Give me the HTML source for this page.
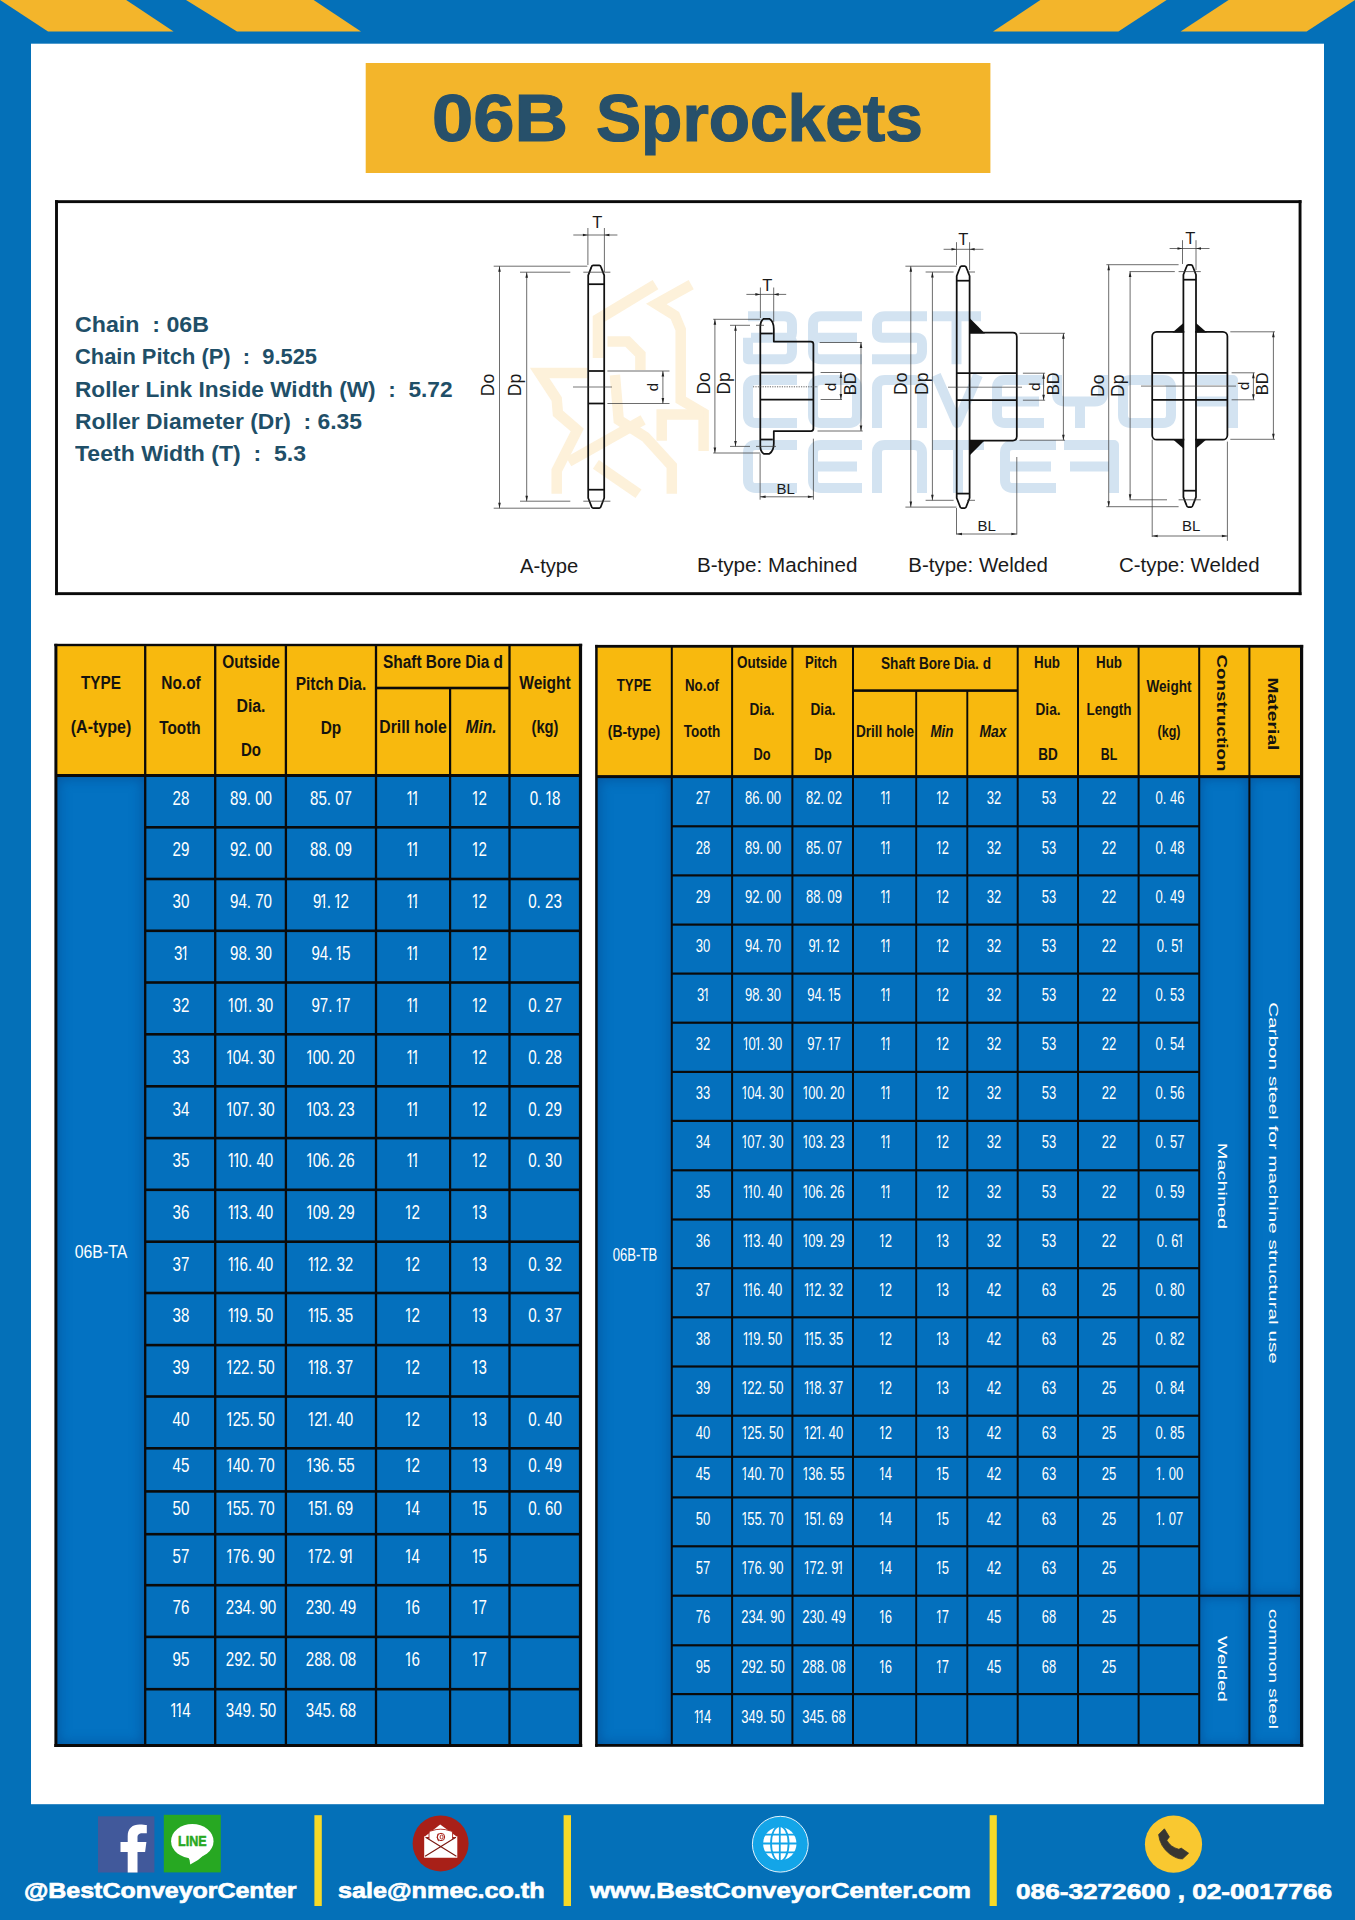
<!DOCTYPE html><html><head><meta charset="utf-8"><title>06B Sprockets</title><style>
html,body{margin:0;padding:0}
body{width:1355px;height:1920px;background:#0470b8;position:relative;overflow:hidden;font-family:"Liberation Sans",sans-serif}
.t{position:absolute;white-space:pre;line-height:1em;margin:0;padding:0}
.t i{font-style:normal;margin:0 -.1em;display:inline-block;clip-path:polygon(0 0,100% 0,100% 60%,63.5% 60%,63.5% 100%,42.5% 100%,42.5% 60%,0 60%)}
</style></head><body>
<svg style="position:absolute;left:0;top:0" width="1355" height="50" viewBox="0 0 1355 50">
<polygon points="0,0 126.2,0 173.6,31.6 48,31.6" fill="#f3b52b"/>
<polygon points="186,0 313.6,0 361,31.6 237,31.6" fill="#f3b52b"/>
<polygon points="1040.4,0 1166.6,0 1118.4,31.6 993,31.6" fill="#f3b52b"/>
<polygon points="1228.6,0 1355,0 1355,0 1306.6,31.6 1180.6,31.6" fill="#f3b52b"/>
</svg>
<svg style="position:absolute;left:0;top:0" width="1355" height="1920" viewBox="0 0 1355 1920"><rect x="31.00" y="43.70" width="1293.00" height="1760.50" fill="#fff"/><rect x="365.70" y="63.00" width="624.70" height="110.00" fill="#f3b52b"/><rect x="55.05" y="200.20" width="1246.45" height="2.90" fill="#0a0a0a"/><rect x="55.05" y="592.20" width="1246.45" height="2.90" fill="#0a0a0a"/><rect x="55.05" y="200.20" width="2.90" height="394.90" fill="#0a0a0a"/><rect x="1298.60" y="200.20" width="2.90" height="394.90" fill="#0a0a0a"/><rect x="55.80" y="644.70" width="524.80" height="130.80" fill="#f8b90e"/><rect x="55.80" y="775.50" width="524.80" height="970.10" fill="#0470bd"/></svg>
<div style="position:absolute;left:55.80px;top:775.50px;width:89.40px;height:970.10px;background:#0372c2;box-shadow:inset 0 0 12px 3px rgba(3,70,140,.55)"></div>
<svg style="position:absolute;left:0;top:0" width="1355" height="1920" viewBox="0 0 1355 1920"><rect x="54.30" y="643.80" width="527.90" height="2.40" fill="#0a0a0a"/><rect x="54.30" y="1744.00" width="527.90" height="3.00" fill="#0a0a0a"/><rect x="54.40" y="643.80" width="3.00" height="1103.20" fill="#0a0a0a"/><rect x="578.90" y="643.80" width="3.20" height="1103.20" fill="#0a0a0a"/><rect x="144.05" y="644.70" width="2.30" height="1100.90" fill="#0a0a0a"/><rect x="214.05" y="644.70" width="2.30" height="1100.90" fill="#0a0a0a"/><rect x="284.75" y="644.70" width="2.30" height="1100.90" fill="#0a0a0a"/><rect x="374.85" y="644.70" width="2.30" height="1100.90" fill="#0a0a0a"/><rect x="449.00" y="688.00" width="2.20" height="1057.60" fill="#0a0a0a"/><rect x="508.35" y="644.70" width="2.30" height="1100.90" fill="#0a0a0a"/><rect x="376.00" y="686.70" width="133.50" height="2.60" fill="#0a0a0a"/><rect x="55.80" y="774.00" width="524.80" height="3.00" fill="#0a0a0a"/><rect x="145.20" y="826.00" width="435.40" height="2.60" fill="#0a0a0a"/><rect x="145.20" y="877.70" width="435.40" height="2.60" fill="#0a0a0a"/><rect x="145.20" y="929.50" width="435.40" height="2.60" fill="#0a0a0a"/><rect x="145.20" y="981.20" width="435.40" height="2.60" fill="#0a0a0a"/><rect x="145.20" y="1033.00" width="435.40" height="2.60" fill="#0a0a0a"/><rect x="145.20" y="1085.00" width="435.40" height="2.60" fill="#0a0a0a"/><rect x="145.20" y="1136.80" width="435.40" height="2.60" fill="#0a0a0a"/><rect x="145.20" y="1188.50" width="435.40" height="2.60" fill="#0a0a0a"/><rect x="145.20" y="1240.40" width="435.40" height="2.60" fill="#0a0a0a"/><rect x="145.20" y="1291.70" width="435.40" height="2.60" fill="#0a0a0a"/><rect x="145.20" y="1343.80" width="435.40" height="2.60" fill="#0a0a0a"/><rect x="145.20" y="1395.20" width="435.40" height="2.60" fill="#0a0a0a"/><rect x="145.20" y="1447.00" width="435.40" height="2.60" fill="#0a0a0a"/><rect x="145.20" y="1490.10" width="435.40" height="2.60" fill="#0a0a0a"/><rect x="145.20" y="1532.90" width="435.40" height="2.60" fill="#0a0a0a"/><rect x="145.20" y="1583.90" width="435.40" height="2.60" fill="#0a0a0a"/><rect x="145.20" y="1635.60" width="435.40" height="2.60" fill="#0a0a0a"/><rect x="145.20" y="1687.90" width="435.40" height="2.60" fill="#0a0a0a"/><rect x="596.60" y="646.00" width="705.00" height="130.60" fill="#f8b90e"/><rect x="596.60" y="776.60" width="705.00" height="969.00" fill="#0470bd"/></svg>
<div style="position:absolute;left:596.60px;top:776.60px;width:75.20px;height:969.00px;background:#0372c2;box-shadow:inset 0 0 12px 3px rgba(3,70,140,.55)"></div>
<div style="position:absolute;left:1199.20px;top:776.60px;width:50.20px;height:819.10px;background:#0372c2;box-shadow:inset 0 0 10px 3px rgba(3,70,140,.5)"></div>
<div style="position:absolute;left:1249.40px;top:776.60px;width:52.20px;height:819.10px;background:#0372c2;box-shadow:inset 0 0 10px 3px rgba(3,70,140,.5)"></div>
<div style="position:absolute;left:1199.20px;top:1595.70px;width:50.20px;height:149.90px;background:#0372c2;box-shadow:inset 0 0 10px 3px rgba(3,70,140,.5)"></div>
<div style="position:absolute;left:1249.40px;top:1595.70px;width:52.20px;height:149.90px;background:#0372c2;box-shadow:inset 0 0 10px 3px rgba(3,70,140,.5)"></div>
<svg style="position:absolute;left:0;top:0" width="1355" height="1920" viewBox="0 0 1355 1920"><rect x="595.20" y="644.90" width="708.00" height="2.80" fill="#0a0a0a"/><rect x="595.20" y="1744.00" width="708.00" height="2.80" fill="#0a0a0a"/><rect x="595.15" y="644.90" width="2.50" height="1101.90" fill="#0a0a0a"/><rect x="1300.00" y="644.90" width="3.20" height="1101.90" fill="#0a0a0a"/><rect x="670.80" y="646.00" width="2.00" height="1099.60" fill="#0a0a0a"/><rect x="731.10" y="646.00" width="2.00" height="1099.60" fill="#0a0a0a"/><rect x="791.40" y="646.00" width="2.00" height="1099.60" fill="#0a0a0a"/><rect x="852.00" y="646.00" width="2.00" height="1099.60" fill="#0a0a0a"/><rect x="915.25" y="690.60" width="1.90" height="1055.00" fill="#0a0a0a"/><rect x="966.35" y="690.60" width="1.90" height="1055.00" fill="#0a0a0a"/><rect x="1016.70" y="646.00" width="2.00" height="1099.60" fill="#0a0a0a"/><rect x="1077.00" y="646.00" width="2.00" height="1099.60" fill="#0a0a0a"/><rect x="1137.60" y="646.00" width="2.00" height="1099.60" fill="#0a0a0a"/><rect x="1198.20" y="646.00" width="2.00" height="1099.60" fill="#0a0a0a"/><rect x="1248.40" y="646.00" width="2.00" height="1099.60" fill="#0a0a0a"/><rect x="853.00" y="689.30" width="164.70" height="2.60" fill="#0a0a0a"/><rect x="596.60" y="775.10" width="705.00" height="3.00" fill="#0a0a0a"/><rect x="671.80" y="825.20" width="527.40" height="2.20" fill="#0a0a0a"/><rect x="671.80" y="874.30" width="527.40" height="2.20" fill="#0a0a0a"/><rect x="671.80" y="923.50" width="527.40" height="2.20" fill="#0a0a0a"/><rect x="671.80" y="972.50" width="527.40" height="2.20" fill="#0a0a0a"/><rect x="671.80" y="1021.60" width="527.40" height="2.20" fill="#0a0a0a"/><rect x="671.80" y="1070.80" width="527.40" height="2.20" fill="#0a0a0a"/><rect x="671.80" y="1119.80" width="527.40" height="2.20" fill="#0a0a0a"/><rect x="671.80" y="1169.20" width="527.40" height="2.20" fill="#0a0a0a"/><rect x="671.80" y="1218.40" width="527.40" height="2.20" fill="#0a0a0a"/><rect x="671.80" y="1267.10" width="527.40" height="2.20" fill="#0a0a0a"/><rect x="671.80" y="1316.20" width="527.40" height="2.20" fill="#0a0a0a"/><rect x="671.80" y="1365.40" width="527.40" height="2.20" fill="#0a0a0a"/><rect x="671.80" y="1414.60" width="527.40" height="2.20" fill="#0a0a0a"/><rect x="671.80" y="1455.70" width="527.40" height="2.20" fill="#0a0a0a"/><rect x="671.80" y="1496.30" width="527.40" height="2.20" fill="#0a0a0a"/><rect x="671.80" y="1545.20" width="527.40" height="2.20" fill="#0a0a0a"/><rect x="671.80" y="1594.60" width="527.40" height="2.20" fill="#0a0a0a"/><rect x="671.80" y="1644.20" width="527.40" height="2.20" fill="#0a0a0a"/><rect x="671.80" y="1693.00" width="527.40" height="2.20" fill="#0a0a0a"/><rect x="1199.20" y="1594.60" width="102.40" height="2.20" fill="#0a0a0a"/><rect x="314.40" y="1815.20" width="7.40" height="90.80" fill="#f7d928"/><rect x="563.60" y="1815.20" width="7.40" height="90.80" fill="#f7d928"/><rect x="989.60" y="1815.20" width="7.20" height="90.80" fill="#f7d928"/></svg>
<svg style="position:absolute;left:0;top:0" width="1355" height="600" viewBox="0 0 1355 600" font-family="Liberation Sans, sans-serif">
<polyline points="587.3,373.0 539.6,373.0 556.7,399.0 557.9,413.3 577.3,430.0 556.7,470.6 556.7,493.8" fill="none" stroke="#fdf1da" stroke-width="10.5" stroke-linejoin="miter" stroke-linecap="butt"/>
<polyline points="568.7,461.8 643.1,419.9" fill="none" stroke="#fdf1da" stroke-width="10.5" stroke-linejoin="miter" stroke-linecap="butt"/>
<polyline points="595.9,464.4 638.5,493.8" fill="none" stroke="#fdf1da" stroke-width="10.5" stroke-linejoin="miter" stroke-linecap="butt"/>
<polyline points="598.2,357.9 598.2,319.2 655.5,284.6" fill="none" stroke="#fdf1da" stroke-width="11" stroke-linejoin="miter" stroke-linecap="butt"/>
<polyline points="691.2,284.6 656.3,304.0 674.9,315.6 680.7,329.6 680.7,399.8 703.6,413.3 703.6,450.9" fill="none" stroke="#fdf1da" stroke-width="10.5" stroke-linejoin="miter" stroke-linecap="butt"/>
<polyline points="607.5,341.6 627.6,341.6 640.4,354.4 640.4,369.9" fill="none" stroke="#fdf1da" stroke-width="10.5" stroke-linejoin="miter" stroke-linecap="butt"/>
<polyline points="614.9,375.0 618.7,419.9 645.5,437.0 671.8,465.9 671.8,493.8" fill="none" stroke="#fdf1da" stroke-width="10.5" stroke-linejoin="miter" stroke-linecap="butt"/>
<polyline points="661.7,440.8 661.7,414.5 703.6,414.5" fill="none" stroke="#fdf1da" stroke-width="10.5" stroke-linejoin="miter" stroke-linecap="butt"/>
<path d="M748.0,316.2 H784.0 Q792.0,316.2 792.0,324.2 V332.7 Q792.0,337.7 787.0,337.7 H751.0 M787.0,337.7 Q792.0,337.7 792.0,342.7 V351.2 Q792.0,359.2 784.0,359.2 H748.0 V337.7" fill="none" stroke="#d3e3f1" stroke-width="10" stroke-linejoin="round"/>
<path d="M862.0,316.2 H821.0 Q813.0,316.2 813.0,324.2 V351.2 Q813.0,359.2 821.0,359.2 H862.0 M813.0,337.7 H857.0" fill="none" stroke="#d3e3f1" stroke-width="10" stroke-linejoin="round"/>
<path d="M927.0,316.2 H885.0 Q877.0,316.2 877.0,324.2 V331.7 Q877.0,337.7 883.0,337.7 H916.0 Q922.0,337.7 922.0,343.7 V351.2 Q922.0,359.2 914.0,359.2 H872.0" fill="none" stroke="#d3e3f1" stroke-width="10" stroke-linejoin="round"/>
<path d="M932,316.2 H981 M956.5,316.2 V364.2" fill="none" stroke="#d3e3f1" stroke-width="10" stroke-linejoin="round"/>
<path d="M797.0,380.0 H756.0 Q748.0,380.0 748.0,388.0 V415.0 Q748.0,423.0 756.0,423.0 H797.0" fill="none" stroke="#d3e3f1" stroke-width="10" stroke-linejoin="round"/>
<path d="M821.0,380.0 H849.0 Q857.0,380.0 857.0,388.0 V415.0 Q857.0,423.0 849.0,423.0 H821.0 Q813.0,423.0 813.0,415.0 V388.0 Q813.0,380.0 821.0,380.0 Z" fill="none" stroke="#d3e3f1" stroke-width="10" stroke-linejoin="round"/>
<path d="M877.0,428 V388.0 Q877.0,380.0 885.0,380.0 H914.0 Q922.0,380.0 922.0,388.0 V428" fill="none" stroke="#d3e3f1" stroke-width="10" stroke-linejoin="round"/>
<path d="M936.0,375 L957.0,423.0 L978.0,375" fill="none" stroke="#d3e3f1" stroke-width="10" stroke-linejoin="round"/>
<path d="M1044.0,380.0 H1005.0 Q997.0,380.0 997.0,388.0 V415.0 Q997.0,423.0 1005.0,423.0 H1044.0 M997.0,401.5 H1039.0" fill="none" stroke="#d3e3f1" stroke-width="10" stroke-linejoin="round"/>
<path d="M1057.0,375 V393.5 Q1057.0,401.5 1065.0,401.5 H1095.0 Q1103.0,401.5 1103.0,393.5 V375 M1080.0,401.5 V428" fill="none" stroke="#d3e3f1" stroke-width="10" stroke-linejoin="round"/>
<path d="M1131.0,380.0 H1163.0 Q1171.0,380.0 1171.0,388.0 V415.0 Q1171.0,423.0 1163.0,423.0 H1131.0 Q1123.0,423.0 1123.0,415.0 V388.0 Q1123.0,380.0 1131.0,380.0 Z" fill="none" stroke="#d3e3f1" stroke-width="10" stroke-linejoin="round"/>
<path d="M1184,380.0 H1233.0 V428 M1190,401.5 H1233.0" fill="none" stroke="#d3e3f1" stroke-width="10" stroke-linejoin="round"/>
<path d="M797.0,445.0 H756.0 Q748.0,445.0 748.0,453.0 V480.0 Q748.0,488.0 756.0,488.0 H797.0" fill="none" stroke="#d3e3f1" stroke-width="10" stroke-linejoin="round"/>
<path d="M862.0,445.0 H821.0 Q813.0,445.0 813.0,453.0 V480.0 Q813.0,488.0 821.0,488.0 H862.0 M813.0,466.5 H857.0" fill="none" stroke="#d3e3f1" stroke-width="10" stroke-linejoin="round"/>
<path d="M877.0,493 V453.0 Q877.0,445.0 885.0,445.0 H914.0 Q922.0,445.0 922.0,453.0 V493" fill="none" stroke="#d3e3f1" stroke-width="10" stroke-linejoin="round"/>
<path d="M932,445.0 H984 M958.0,445.0 V493" fill="none" stroke="#d3e3f1" stroke-width="10" stroke-linejoin="round"/>
<path d="M1056.0,445.0 H1013.0 Q1005.0,445.0 1005.0,453.0 V480.0 Q1005.0,488.0 1013.0,488.0 H1056.0 M1005.0,466.5 H1051.0" fill="none" stroke="#d3e3f1" stroke-width="10" stroke-linejoin="round"/>
<path d="M1064,445.0 H1114.0 V493 M1070,466.5 H1114.0" fill="none" stroke="#d3e3f1" stroke-width="10" stroke-linejoin="round"/>
<path d="M588.2,275.4 L591.2,267.6 Q591.7,265.4 593.0,265.4 L599.4,265.4 Q600.7,265.4 601.2,267.6 L604.2,275.4 L604.2,498.0 L601.2,505.8 Q600.7,508.0 599.4,508.0 L593.0,508.0 Q591.7,508.0 591.2,505.8 L588.2,498.0 Z" fill="none" stroke="#111" stroke-width="1.75" stroke-linejoin="round"/>
<line x1="588.2" y1="284.2" x2="604.2" y2="284.2" stroke="#111" stroke-width="1.75"/>
<line x1="588.2" y1="489.7" x2="604.2" y2="489.7" stroke="#111" stroke-width="1.75"/>
<line x1="588.2" y1="371.0" x2="604.2" y2="371.0" stroke="#111" stroke-width="1.75"/>
<line x1="588.2" y1="403.5" x2="604.2" y2="403.5" stroke="#111" stroke-width="1.75"/>
<line x1="573.0" y1="387.0" x2="612.0" y2="387.0" stroke="#3c3c3c" stroke-width="0.7"/>
<line x1="493.7" y1="266.2" x2="587.3" y2="266.2" stroke="#3c3c3c" stroke-width="0.75"/>
<line x1="493.7" y1="508.2" x2="590.0" y2="508.2" stroke="#3c3c3c" stroke-width="0.75"/>
<line x1="499.5" y1="266.2" x2="499.5" y2="508.2" stroke="#3c3c3c" stroke-width="0.75"/>
<polygon points="499.5,266.2 498.2,271.7 500.8,271.7" fill="#222"/>
<polygon points="499.5,508.2 498.2,502.7 500.8,502.7" fill="#222"/>
<line x1="520.0" y1="272.2" x2="570.3" y2="272.2" stroke="#3c3c3c" stroke-width="0.75"/>
<line x1="583.3" y1="272.2" x2="610.4" y2="272.2" stroke="#3c3c3c" stroke-width="0.75"/>
<line x1="520.0" y1="501.2" x2="570.3" y2="501.2" stroke="#3c3c3c" stroke-width="0.75"/>
<line x1="583.3" y1="501.2" x2="610.4" y2="501.2" stroke="#3c3c3c" stroke-width="0.75"/>
<line x1="526.7" y1="272.2" x2="526.7" y2="501.2" stroke="#3c3c3c" stroke-width="0.75"/>
<polygon points="526.7,272.2 525.4,277.7 528.0,277.7" fill="#222"/>
<polygon points="526.7,501.2 525.4,495.7 528.0,495.7" fill="#222"/>
<line x1="587.9" y1="228.0" x2="587.9" y2="265.0" stroke="#3c3c3c" stroke-width="0.75"/>
<line x1="604.4" y1="228.0" x2="604.4" y2="272.0" stroke="#3c3c3c" stroke-width="0.75"/>
<line x1="573.3" y1="235.0" x2="617.4" y2="235.0" stroke="#3c3c3c" stroke-width="0.75"/>
<polygon points="587.9,235.0 582.9,233.7 582.9,236.3" fill="#222"/>
<polygon points="604.4,235.0 609.4,233.7 609.4,236.3" fill="#222"/>
<text x="597.3" y="227.5" font-size="16.5" text-anchor="middle" fill="#1a1a1a">T</text>
<line x1="607.4" y1="371.0" x2="669.5" y2="371.0" stroke="#3c3c3c" stroke-width="0.75"/>
<line x1="607.4" y1="403.5" x2="669.5" y2="403.5" stroke="#3c3c3c" stroke-width="0.75"/>
<line x1="662.9" y1="371.0" x2="662.9" y2="403.5" stroke="#3c3c3c" stroke-width="0.75"/>
<polygon points="662.9,371.0 661.6,376.5 664.2,376.5" fill="#222"/>
<polygon points="662.9,403.5 661.6,398.0 664.2,398.0" fill="#222"/>
<text x="658.5" y="387.2" font-size="15" text-anchor="middle" fill="#1a1a1a" transform="rotate(-90 658.5 387.2)">d</text>
<text x="494.0" y="385.0" font-size="17.5" text-anchor="middle" fill="#1a1a1a" transform="rotate(-90 494.0 385.0)">Do</text>
<text x="520.5" y="385.0" font-size="17.5" text-anchor="middle" fill="#1a1a1a" transform="rotate(-90 520.5 385.0)">Dp</text>
<text x="520.0" y="573.0" font-size="20.5" text-anchor="start" fill="#1a1a1a" textLength="58.3" lengthAdjust="spacingAndGlyphs">A-type</text>
<path d="M760.3,326.8 Q760.3,320.8 763.6999999999999,318.8 L769.4,318.8 Q773.8,321.5 773.8,329 L773.8,341.6 L810.9,341.6 Q813.4,341.6 813.4,344.1 L813.4,428.5 Q813.4,431 810.9,431 L773.8,431 L773.8,443.6 Q773.8,451 769.4,453.8 L763.6999999999999,453.8 Q760.3,451.8 760.3,445.8 Z" fill="none" stroke="#111" stroke-width="1.75" stroke-linejoin="round"/>
<line x1="760.3" y1="333.5" x2="772.8" y2="333.5" stroke="#111" stroke-width="1.75"/>
<line x1="760.3" y1="439.5" x2="772.8" y2="439.5" stroke="#111" stroke-width="1.75"/>
<line x1="760.3" y1="372.5" x2="813.4" y2="372.5" stroke="#111" stroke-width="1.75"/>
<line x1="760.3" y1="399.5" x2="813.4" y2="399.5" stroke="#111" stroke-width="1.75"/>
<line x1="753" y1="386.8" x2="818" y2="386.8" stroke="#3c3c3c" stroke-width="0.8" stroke-dasharray="1.2,1.2"/>
<line x1="713.2" y1="319.3" x2="760.4" y2="319.3" stroke="#3c3c3c" stroke-width="0.75"/>
<line x1="713.2" y1="453.0" x2="760.4" y2="453.0" stroke="#3c3c3c" stroke-width="0.75"/>
<line x1="714.9" y1="319.3" x2="714.9" y2="453.0" stroke="#3c3c3c" stroke-width="0.75"/>
<polygon points="714.9,319.3 713.6,324.8 716.2,324.8" fill="#222"/>
<polygon points="714.9,453.0 713.6,447.5 716.2,447.5" fill="#222"/>
<line x1="730.0" y1="325.3" x2="750.0" y2="325.3" stroke="#3c3c3c" stroke-width="0.75"/>
<line x1="756.0" y1="325.3" x2="764.0" y2="325.3" stroke="#3c3c3c" stroke-width="0.75"/>
<line x1="730.0" y1="446.4" x2="750.0" y2="446.4" stroke="#3c3c3c" stroke-width="0.75"/>
<line x1="756.0" y1="446.4" x2="776.0" y2="446.4" stroke="#3c3c3c" stroke-width="0.75"/>
<line x1="735.5" y1="325.3" x2="735.5" y2="446.4" stroke="#3c3c3c" stroke-width="0.75"/>
<polygon points="735.5,325.3 734.2,330.8 736.8,330.8" fill="#222"/>
<polygon points="735.5,446.4 734.2,440.9 736.8,440.9" fill="#222"/>
<line x1="760.4" y1="287.5" x2="760.4" y2="318.0" stroke="#3c3c3c" stroke-width="0.75"/>
<line x1="773.7" y1="287.5" x2="773.7" y2="322.0" stroke="#3c3c3c" stroke-width="0.75"/>
<line x1="746.4" y1="294.4" x2="786.2" y2="294.4" stroke="#3c3c3c" stroke-width="0.75"/>
<polygon points="760.4,294.4 755.4,293.1 755.4,295.7" fill="#222"/>
<polygon points="773.7,294.4 778.7,293.1 778.7,295.7" fill="#222"/>
<text x="767.3" y="290.5" font-size="16.5" text-anchor="middle" fill="#1a1a1a">T</text>
<line x1="819.7" y1="342.5" x2="861.8" y2="342.5" stroke="#3c3c3c" stroke-width="0.75"/>
<line x1="817.5" y1="431.0" x2="862.7" y2="431.0" stroke="#3c3c3c" stroke-width="0.75"/>
<line x1="861.0" y1="342.5" x2="861.0" y2="431.0" stroke="#3c3c3c" stroke-width="0.75"/>
<polygon points="861.0,342.5 859.7,348.0 862.3,348.0" fill="#222"/>
<polygon points="861.0,431.0 859.7,425.5 862.3,425.5" fill="#222"/>
<line x1="820.6" y1="372.5" x2="842.0" y2="372.5" stroke="#3c3c3c" stroke-width="0.75"/>
<line x1="820.6" y1="399.5" x2="842.0" y2="399.5" stroke="#3c3c3c" stroke-width="0.75"/>
<line x1="840.9" y1="372.5" x2="840.9" y2="399.5" stroke="#3c3c3c" stroke-width="0.75"/>
<polygon points="840.9,372.5 839.6,378.0 842.2,378.0" fill="#222"/>
<polygon points="840.9,399.5 839.6,394.0 842.2,394.0" fill="#222"/>
<line x1="760.1" y1="453.8" x2="760.1" y2="499.7" stroke="#3c3c3c" stroke-width="0.75"/>
<line x1="813.4" y1="438.7" x2="813.4" y2="499.7" stroke="#3c3c3c" stroke-width="0.75"/>
<line x1="760.1" y1="496.8" x2="813.4" y2="496.8" stroke="#3c3c3c" stroke-width="0.75"/>
<polygon points="760.1,496.8 765.6,495.5 765.6,498.1" fill="#222"/>
<polygon points="813.4,496.8 807.9,495.5 807.9,498.1" fill="#222"/>
<text x="785.8" y="493.7" font-size="15" text-anchor="middle" fill="#1a1a1a">BL</text>
<text x="710.5" y="383.4" font-size="17.5" text-anchor="middle" fill="#1a1a1a" transform="rotate(-90 710.5 383.4)">Do</text>
<text x="730.2" y="383.4" font-size="17.5" text-anchor="middle" fill="#1a1a1a" transform="rotate(-90 730.2 383.4)">Dp</text>
<text x="836.5" y="386.8" font-size="15" text-anchor="middle" fill="#1a1a1a" transform="rotate(-90 836.5 386.8)">d</text>
<text x="855.9" y="383.7" font-size="16.5" text-anchor="middle" fill="#1a1a1a" transform="rotate(-90 855.9 383.7)">BD</text>
<text x="696.9" y="572.4" font-size="20.5" text-anchor="start" fill="#1a1a1a" textLength="160.6" lengthAdjust="spacingAndGlyphs">B-type: Machined</text>
<path d="M956.7,276.0 L959.7,268.2 Q960.2,266.0 961.5,266.0 L964.8,266.0 Q966.1,266.0 966.6,268.2 L969.6,276.0 L969.6,498.0 L966.6,505.8 Q966.1,508.0 964.8,508.0 L961.5,508.0 Q960.2,508.0 959.7,505.8 L956.7,498.0 Z" fill="none" stroke="#111" stroke-width="1.75" stroke-linejoin="round"/>
<line x1="956.7" y1="280.7" x2="969.6" y2="280.7" stroke="#111" stroke-width="1.75"/>
<line x1="956.7" y1="493.6" x2="969.6" y2="493.6" stroke="#111" stroke-width="1.75"/>
<path d="M969.6,332.7 L1012.8,332.7 Q1016.8,332.7 1016.8,336.7 L1016.8,436.6 Q1016.8,440.6 1012.8,440.6 L969.6,440.6" fill="none" stroke="#111" stroke-width="1.75"/>
<polygon points="969.6,318 969.6,333.4 985,333.4" fill="#111"/>
<polygon points="969.6,455.4 969.6,440 985,440" fill="#111"/>
<line x1="956.7" y1="373.2" x2="1016.8" y2="373.2" stroke="#111" stroke-width="1.75"/>
<line x1="956.7" y1="400.2" x2="1016.8" y2="400.2" stroke="#111" stroke-width="1.75"/>
<line x1="948.0" y1="387.2" x2="1022.0" y2="387.2" stroke="#3c3c3c" stroke-width="0.7"/>
<line x1="905.4" y1="266.2" x2="956.5" y2="266.2" stroke="#3c3c3c" stroke-width="0.75"/>
<line x1="905.4" y1="507.1" x2="956.5" y2="507.1" stroke="#3c3c3c" stroke-width="0.75"/>
<line x1="910.8" y1="266.2" x2="910.8" y2="507.1" stroke="#3c3c3c" stroke-width="0.75"/>
<polygon points="910.8,266.2 909.5,271.7 912.1,271.7" fill="#222"/>
<polygon points="910.8,507.1 909.5,501.6 912.1,501.6" fill="#222"/>
<line x1="925.6" y1="272.0" x2="953.6" y2="272.0" stroke="#3c3c3c" stroke-width="0.75"/>
<line x1="967.0" y1="272.0" x2="975.0" y2="272.0" stroke="#3c3c3c" stroke-width="0.75"/>
<line x1="925.6" y1="500.3" x2="953.6" y2="500.3" stroke="#3c3c3c" stroke-width="0.75"/>
<line x1="967.0" y1="500.3" x2="975.0" y2="500.3" stroke="#3c3c3c" stroke-width="0.75"/>
<line x1="932.4" y1="272.0" x2="932.4" y2="500.3" stroke="#3c3c3c" stroke-width="0.75"/>
<polygon points="932.4,272.0 931.1,277.5 933.7,277.5" fill="#222"/>
<polygon points="932.4,500.3 931.1,494.8 933.7,494.8" fill="#222"/>
<line x1="956.5" y1="242.2" x2="956.5" y2="265.0" stroke="#3c3c3c" stroke-width="0.75"/>
<line x1="969.6" y1="242.2" x2="969.6" y2="270.0" stroke="#3c3c3c" stroke-width="0.75"/>
<line x1="943.6" y1="249.3" x2="983.4" y2="249.3" stroke="#3c3c3c" stroke-width="0.75"/>
<polygon points="956.5,249.3 951.5,248.0 951.5,250.6" fill="#222"/>
<polygon points="969.6,249.3 974.6,248.0 974.6,250.6" fill="#222"/>
<text x="963.2" y="244.5" font-size="16.5" text-anchor="middle" fill="#1a1a1a">T</text>
<line x1="1019.5" y1="333.3" x2="1065.0" y2="333.3" stroke="#3c3c3c" stroke-width="0.75"/>
<line x1="1019.5" y1="440.2" x2="1065.0" y2="440.2" stroke="#3c3c3c" stroke-width="0.75"/>
<line x1="1063.4" y1="333.3" x2="1063.4" y2="440.2" stroke="#3c3c3c" stroke-width="0.75"/>
<polygon points="1063.4,333.3 1062.1,338.8 1064.7,338.8" fill="#222"/>
<polygon points="1063.4,440.2 1062.1,434.7 1064.7,434.7" fill="#222"/>
<line x1="1022.9" y1="373.2" x2="1045.1" y2="373.2" stroke="#3c3c3c" stroke-width="0.75"/>
<line x1="1022.9" y1="400.2" x2="1045.1" y2="400.2" stroke="#3c3c3c" stroke-width="0.75"/>
<line x1="1043.6" y1="373.2" x2="1043.6" y2="400.2" stroke="#3c3c3c" stroke-width="0.75"/>
<polygon points="1043.6,373.2 1042.3,378.7 1044.9,378.7" fill="#222"/>
<polygon points="1043.6,400.2 1042.3,394.7 1044.9,394.7" fill="#222"/>
<line x1="956.5" y1="508.0" x2="956.5" y2="534.5" stroke="#3c3c3c" stroke-width="0.75"/>
<line x1="1016.8" y1="457.0" x2="1016.8" y2="534.5" stroke="#3c3c3c" stroke-width="0.75"/>
<line x1="956.5" y1="534.0" x2="1016.8" y2="534.0" stroke="#3c3c3c" stroke-width="0.75"/>
<polygon points="956.5,534.0 962.0,532.7 962.0,535.3" fill="#222"/>
<polygon points="1016.8,534.0 1011.3,532.7 1011.3,535.3" fill="#222"/>
<text x="986.8" y="530.6" font-size="15" text-anchor="middle" fill="#1a1a1a">BL</text>
<text x="906.6" y="383.8" font-size="17.5" text-anchor="middle" fill="#1a1a1a" transform="rotate(-90 906.6 383.8)">Do</text>
<text x="927.8" y="383.8" font-size="17.5" text-anchor="middle" fill="#1a1a1a" transform="rotate(-90 927.8 383.8)">Dp</text>
<text x="1040.3" y="386.6" font-size="15" text-anchor="middle" fill="#1a1a1a" transform="rotate(-90 1040.3 386.6)">d</text>
<text x="1058.8" y="383.8" font-size="16.5" text-anchor="middle" fill="#1a1a1a" transform="rotate(-90 1058.8 383.8)">BD</text>
<text x="908.3" y="571.6" font-size="20.5" text-anchor="start" fill="#1a1a1a" textLength="139.7" lengthAdjust="spacingAndGlyphs">B-type: Welded</text>
<rect x="1152.2" y="331.8" width="75.2" height="107.9" rx="4.5" fill="none" stroke="#111" stroke-width="1.75"/>
<rect x="1184.3" y="300" width="10.8" height="170" fill="#fff"/>
<path d="M1183.4,274.8 L1186.4,267.0 Q1186.9,264.8 1188.2,264.8 L1191.2,264.8 Q1192.5,264.8 1193.0,267.0 L1196.0,274.8 L1196.0,497.1 L1193.0,504.9 Q1192.5,507.1 1191.2,507.1 L1188.2,507.1 Q1186.9,507.1 1186.4,504.9 L1183.4,497.1 Z" fill="none" stroke="#111" stroke-width="1.75" stroke-linejoin="round"/>
<line x1="1183.4" y1="279.7" x2="1196.0" y2="279.7" stroke="#111" stroke-width="1.75"/>
<line x1="1183.4" y1="490.7" x2="1196.0" y2="490.7" stroke="#111" stroke-width="1.75"/>
<polygon points="1183.4,323 1183.4,332.4 1172.5,332.4" fill="#111"/>
<polygon points="1196,323 1196,332.4 1206.9,332.4" fill="#111"/>
<polygon points="1183.4,448.5 1183.4,439.1 1172.5,439.1" fill="#111"/>
<polygon points="1196,448.5 1196,439.1 1206.9,439.1" fill="#111"/>
<line x1="1152.2" y1="372.8" x2="1227.4" y2="372.8" stroke="#111" stroke-width="1.75"/>
<line x1="1152.2" y1="399.8" x2="1227.4" y2="399.8" stroke="#111" stroke-width="1.75"/>
<line x1="1141.0" y1="386.1" x2="1236.0" y2="386.1" stroke="#3c3c3c" stroke-width="0.7"/>
<line x1="1106.4" y1="264.7" x2="1178.6" y2="264.7" stroke="#3c3c3c" stroke-width="0.75"/>
<line x1="1106.4" y1="506.7" x2="1178.6" y2="506.7" stroke="#3c3c3c" stroke-width="0.75"/>
<line x1="1108.7" y1="264.7" x2="1108.7" y2="506.7" stroke="#3c3c3c" stroke-width="0.75"/>
<polygon points="1108.7,264.7 1107.4,270.2 1110.0,270.2" fill="#222"/>
<polygon points="1108.7,506.7 1107.4,501.2 1110.0,501.2" fill="#222"/>
<line x1="1129.5" y1="271.6" x2="1174.8" y2="271.6" stroke="#3c3c3c" stroke-width="0.75"/>
<line x1="1178.6" y1="271.6" x2="1200.8" y2="271.6" stroke="#3c3c3c" stroke-width="0.75"/>
<line x1="1129.5" y1="499.8" x2="1167.0" y2="499.8" stroke="#3c3c3c" stroke-width="0.75"/>
<line x1="1178.6" y1="499.8" x2="1200.8" y2="499.8" stroke="#3c3c3c" stroke-width="0.75"/>
<line x1="1130.1" y1="271.6" x2="1130.1" y2="499.8" stroke="#3c3c3c" stroke-width="0.75"/>
<polygon points="1130.1,271.6 1128.8,277.1 1131.4,277.1" fill="#222"/>
<polygon points="1130.1,499.8 1128.8,494.3 1131.4,494.3" fill="#222"/>
<line x1="1182.5" y1="240.2" x2="1182.5" y2="264.0" stroke="#3c3c3c" stroke-width="0.75"/>
<line x1="1196.0" y1="240.2" x2="1196.0" y2="270.0" stroke="#3c3c3c" stroke-width="0.75"/>
<line x1="1169.6" y1="248.5" x2="1209.5" y2="248.5" stroke="#3c3c3c" stroke-width="0.75"/>
<polygon points="1182.5,248.5 1177.5,247.2 1177.5,249.8" fill="#222"/>
<polygon points="1196.0,248.5 1201.0,247.2 1201.0,249.8" fill="#222"/>
<text x="1190.2" y="244.2" font-size="16.5" text-anchor="middle" fill="#1a1a1a">T</text>
<line x1="1230.3" y1="331.8" x2="1275.0" y2="331.8" stroke="#3c3c3c" stroke-width="0.75"/>
<line x1="1230.3" y1="439.3" x2="1275.0" y2="439.3" stroke="#3c3c3c" stroke-width="0.75"/>
<line x1="1273.4" y1="331.8" x2="1273.4" y2="439.3" stroke="#3c3c3c" stroke-width="0.75"/>
<polygon points="1273.4,331.8 1272.1,337.3 1274.7,337.3" fill="#222"/>
<polygon points="1273.4,439.3 1272.1,433.8 1274.7,433.8" fill="#222"/>
<line x1="1231.6" y1="372.8" x2="1254.7" y2="372.8" stroke="#3c3c3c" stroke-width="0.75"/>
<line x1="1231.6" y1="399.8" x2="1254.7" y2="399.8" stroke="#3c3c3c" stroke-width="0.75"/>
<line x1="1253.4" y1="372.8" x2="1253.4" y2="399.8" stroke="#3c3c3c" stroke-width="0.75"/>
<polygon points="1253.4,372.8 1252.1,378.3 1254.7,378.3" fill="#222"/>
<polygon points="1253.4,399.8 1252.1,394.3 1254.7,394.3" fill="#222"/>
<line x1="1152.2" y1="439.7" x2="1152.2" y2="537.0" stroke="#3c3c3c" stroke-width="0.75"/>
<line x1="1227.4" y1="441.6" x2="1227.4" y2="540.8" stroke="#3c3c3c" stroke-width="0.75"/>
<line x1="1152.2" y1="536.0" x2="1227.4" y2="536.0" stroke="#3c3c3c" stroke-width="0.75"/>
<polygon points="1152.2,536.0 1157.7,534.7 1157.7,537.3" fill="#222"/>
<polygon points="1227.4,536.0 1221.9,534.7 1221.9,537.3" fill="#222"/>
<text x="1191.2" y="531.2" font-size="15" text-anchor="middle" fill="#1a1a1a">BL</text>
<text x="1103.7" y="385.7" font-size="17.5" text-anchor="middle" fill="#1a1a1a" transform="rotate(-90 1103.7 385.7)">Do</text>
<text x="1123.9" y="385.7" font-size="17.5" text-anchor="middle" fill="#1a1a1a" transform="rotate(-90 1123.9 385.7)">Dp</text>
<text x="1248.9" y="385.9" font-size="15" text-anchor="middle" fill="#1a1a1a" transform="rotate(-90 1248.9 385.9)">d</text>
<text x="1268.4" y="383.8" font-size="16.5" text-anchor="middle" fill="#1a1a1a" transform="rotate(-90 1268.4 383.8)">BD</text>
<text x="1118.9" y="571.6" font-size="20.5" text-anchor="start" fill="#1a1a1a" textLength="140.7" lengthAdjust="spacingAndGlyphs">C-type: Welded</text>
</svg>
<svg style="position:absolute;left:0;top:1805px" width="1355" height="115" viewBox="0 1805 1355 115" font-family="Liberation Sans, sans-serif">
<rect x="98" y="1816.3" width="56.4" height="56.2" fill="#41599b"/>
<path d="M127.7,1872.6 V1851.9 H120.5 V1842.1 H127.7 V1836.2 C127.7,1828.2 132.5,1824.4 139.6,1824.4 C142.6,1824.4 145.2,1824.7 146.8,1825 V1833.3 H142.4 C138.7,1833.3 137.5,1835 137.5,1837.8 V1842.1 H146.4 L145.1,1851.9 H137.5 V1872.6 Z" fill="#fff"/>
<rect x="163.8" y="1814.8" width="57" height="57.6" fill="#27a822"/>
<ellipse cx="192.3" cy="1841.2" rx="21.2" ry="17.2" fill="#fff"/>
<path d="M187.5,1856 Q190.5,1860 190.2,1864.6 Q198,1861 204.5,1854.5 Z" fill="#fff"/>
<text x="192.3" y="1846.3" font-size="14" font-weight="700" fill="#27a822" stroke="#27a822" stroke-width="0.5" text-anchor="middle" textLength="28.5" lengthAdjust="spacingAndGlyphs">LINE</text>
<circle cx="440.6" cy="1843.4" r="28" fill="#a82018"/>
<polygon points="424.2,1837 440.2,1824.6 457.3,1837" fill="#fff"/>
<path d="M429,1833 Q429,1830.6 431.5,1830.8 Q440.7,1827.6 450,1830.8 Q452.6,1830.6 452.6,1833 V1848 H429 Z" fill="#fff" stroke="#a82018" stroke-width="0.9"/>
<circle cx="441" cy="1837" r="3.7" fill="none" stroke="#a82018" stroke-width="1"/>
<path d="M438.2,1833.6 Q435.8,1837.5 438.6,1841.2" fill="none" stroke="#a82018" stroke-width="1"/>
<ellipse cx="441.6" cy="1837" rx="1.5" ry="2" fill="none" stroke="#a82018" stroke-width="0.9"/>
<path d="M424.2,1836.2 L440.7,1845.6 L457.3,1836.2 V1857.7 H424.2 Z" fill="#fff"/>
<path d="M425.6,1837.2 L456.4,1856.2 M455.9,1837.2 L425.1,1856.2" fill="none" stroke="#7a1810" stroke-width="1.1"/>
<circle cx="780.3" cy="1844.2" r="27.9" fill="#13a5e8" stroke="#e4f3fc" stroke-width="1"/>
<circle cx="779.8" cy="1843.6" r="16.7" fill="#fff"/>
<g stroke="#13a5e8" stroke-width="1.8" fill="none"><line x1="762" y1="1843.5" x2="798" y2="1843.5"/><line x1="763" y1="1834.7" x2="797" y2="1834.7"/><line x1="763" y1="1852.3" x2="797" y2="1852.3"/><line x1="779.8" y1="1826" x2="779.8" y2="1862"/><ellipse cx="779.8" cy="1843.6" rx="8.8" ry="17.6"/></g>
<circle cx="1173.5" cy="1844.2" r="28.6" fill="#f9c830"/>
<path d="M1158.6,1834.6 L1164.4,1828.8 L1169.4,1836.9 L1166.8,1840.2 Q1170.2,1847 1178.9,1849.3 L1181.2,1848.1 L1188.6,1853.2 L1182.7,1858.8 Q1177.5,1859.6 1169.5,1853.8 Q1160,1846.5 1158.6,1834.6 Z" fill="#383632" stroke="#383632" stroke-width="0.8" stroke-linejoin="round"/>
</svg>
<div class="t" style="font-size:66px;color:#27506a;font-weight:700;-webkit-text-stroke:1.2px #27506a;left:431.80px;top:85.13px;transform:scaleX(1.1232);transform-origin:0 50%">06B</div>
<div class="t" style="font-size:66px;color:#27506a;font-weight:700;-webkit-text-stroke:1.2px #27506a;left:596.20px;top:85.13px;transform:scaleX(1.0243);transform-origin:0 50%">Sprockets</div>
<div class="t" style="font-size:22.5px;color:#1f4f68;font-weight:700;left:74.80px;top:313.65px;transform:scaleX(1.0305);transform-origin:0 50%">Chain  : 06B</div>
<div class="t" style="font-size:22.5px;color:#1f4f68;font-weight:700;left:74.80px;top:346.05px;transform:scaleX(0.9726);transform-origin:0 50%">Chain Pitch (P)  :  9.525</div>
<div class="t" style="font-size:22.5px;color:#1f4f68;font-weight:700;left:74.80px;top:378.65px;transform:scaleX(1.0071);transform-origin:0 50%">Roller Link Inside Width (W)  :  5.72</div>
<div class="t" style="font-size:22.5px;color:#1f4f68;font-weight:700;left:74.80px;top:411.05px;transform:scaleX(1.0156);transform-origin:0 50%">Roller Diameter (Dr)  : 6.35</div>
<div class="t" style="font-size:22.5px;color:#1f4f68;font-weight:700;left:74.80px;top:443.05px;transform:scaleX(1.0238);transform-origin:0 50%">Teeth Width (T)  :  5.3</div>
<div class="t" style="font-size:17.5px;color:#15130f;font-weight:700;left:100.90px;top:674.56px;transform:translateX(-50%) scaleX(0.8749);transform-origin:50% 50%">TYPE</div>
<div class="t" style="font-size:17.5px;color:#15130f;font-weight:700;left:100.90px;top:719.16px;transform:translateX(-50%) scaleX(0.9152);transform-origin:50% 50%">(A-type)</div>
<div class="t" style="font-size:17.5px;color:#15130f;font-weight:700;left:180.90px;top:675.06px;transform:translateX(-50%) scaleX(0.8833);transform-origin:50% 50%">No.of</div>
<div class="t" style="font-size:17.5px;color:#15130f;font-weight:700;left:180.40px;top:719.96px;transform:translateX(-50%) scaleX(0.8774);transform-origin:50% 50%">Tooth</div>
<div class="t" style="font-size:17.5px;color:#15130f;font-weight:700;left:250.80px;top:653.76px;transform:translateX(-50%) scaleX(0.8825);transform-origin:50% 50%">Outside</div>
<div class="t" style="font-size:17.5px;color:#15130f;font-weight:700;left:251.20px;top:697.56px;transform:translateX(-50%) scaleX(0.9032);transform-origin:50% 50%">Dia.</div>
<div class="t" style="font-size:17.5px;color:#15130f;font-weight:700;left:251.00px;top:741.56px;transform:translateX(-50%) scaleX(0.8573);transform-origin:50% 50%">Do</div>
<div class="t" style="font-size:17.5px;color:#15130f;font-weight:700;left:331.30px;top:675.66px;transform:translateX(-50%) scaleX(0.8840);transform-origin:50% 50%">Pitch Dia.</div>
<div class="t" style="font-size:17.5px;color:#15130f;font-weight:700;left:331.30px;top:719.76px;transform:translateX(-50%) scaleX(0.8788);transform-origin:50% 50%">Dp</div>
<div class="t" style="font-size:17.5px;color:#15130f;font-weight:700;left:443.00px;top:653.76px;transform:translateX(-50%) scaleX(0.8814);transform-origin:50% 50%">Shaft Bore Dia d</div>
<div class="t" style="font-size:17.5px;color:#15130f;font-weight:700;left:413.30px;top:718.96px;transform:translateX(-50%) scaleX(0.9015);transform-origin:50% 50%">Drill hole</div>
<div class="t" style="font-size:17.5px;color:#15130f;font-weight:700;font-style:italic;left:481.20px;top:718.96px;transform:translateX(-50%) scaleX(0.8857);transform-origin:50% 50%">Min.</div>
<div class="t" style="font-size:17.5px;color:#15130f;font-weight:700;left:545.20px;top:675.16px;transform:translateX(-50%) scaleX(0.8877);transform-origin:50% 50%">Weight</div>
<div class="t" style="font-size:17.5px;color:#15130f;font-weight:700;left:545.20px;top:719.16px;transform:translateX(-50%) scaleX(0.8417);transform-origin:50% 50%">(kg)</div>
<div class="t" style="font-size:19.8px;color:#fff;left:180.50px;top:788.73px;transform:translateX(-50%) scaleX(0.7650);transform-origin:50% 50%">28</div>
<div class="t" style="font-size:19.8px;color:#fff;left:250.85px;top:788.73px;transform:translateX(-50%) scaleX(0.7650);transform-origin:50% 50%">89. 00</div>
<div class="t" style="font-size:19.8px;color:#fff;left:331.25px;top:788.73px;transform:translateX(-50%) scaleX(0.7650);transform-origin:50% 50%">85. 07</div>
<div class="t" style="font-size:19.8px;color:#fff;left:413.35px;top:788.73px;transform:translateX(-50%) scaleX(0.7650);transform-origin:50% 50%"><i>1</i><i>1</i></div>
<div class="t" style="font-size:19.8px;color:#fff;left:480.10px;top:788.73px;transform:translateX(-50%) scaleX(0.7650);transform-origin:50% 50%"><i>1</i>2</div>
<div class="t" style="font-size:19.8px;color:#fff;left:545.35px;top:788.73px;transform:translateX(-50%) scaleX(0.7650);transform-origin:50% 50%">0. <i>1</i>8</div>
<div class="t" style="font-size:19.8px;color:#fff;left:180.50px;top:840.48px;transform:translateX(-50%) scaleX(0.7650);transform-origin:50% 50%">29</div>
<div class="t" style="font-size:19.8px;color:#fff;left:250.85px;top:840.48px;transform:translateX(-50%) scaleX(0.7650);transform-origin:50% 50%">92. 00</div>
<div class="t" style="font-size:19.8px;color:#fff;left:331.25px;top:840.48px;transform:translateX(-50%) scaleX(0.7650);transform-origin:50% 50%">88. 09</div>
<div class="t" style="font-size:19.8px;color:#fff;left:413.35px;top:840.48px;transform:translateX(-50%) scaleX(0.7650);transform-origin:50% 50%"><i>1</i><i>1</i></div>
<div class="t" style="font-size:19.8px;color:#fff;left:480.10px;top:840.48px;transform:translateX(-50%) scaleX(0.7650);transform-origin:50% 50%"><i>1</i>2</div>
<div class="t" style="font-size:19.8px;color:#fff;left:180.50px;top:892.23px;transform:translateX(-50%) scaleX(0.7650);transform-origin:50% 50%">30</div>
<div class="t" style="font-size:19.8px;color:#fff;left:250.85px;top:892.23px;transform:translateX(-50%) scaleX(0.7650);transform-origin:50% 50%">94. 70</div>
<div class="t" style="font-size:19.8px;color:#fff;left:331.25px;top:892.23px;transform:translateX(-50%) scaleX(0.7650);transform-origin:50% 50%">9<i>1</i>. <i>1</i>2</div>
<div class="t" style="font-size:19.8px;color:#fff;left:413.35px;top:892.23px;transform:translateX(-50%) scaleX(0.7650);transform-origin:50% 50%"><i>1</i><i>1</i></div>
<div class="t" style="font-size:19.8px;color:#fff;left:480.10px;top:892.23px;transform:translateX(-50%) scaleX(0.7650);transform-origin:50% 50%"><i>1</i>2</div>
<div class="t" style="font-size:19.8px;color:#fff;left:545.35px;top:892.23px;transform:translateX(-50%) scaleX(0.7650);transform-origin:50% 50%">0. 23</div>
<div class="t" style="font-size:19.8px;color:#fff;left:180.50px;top:943.98px;transform:translateX(-50%) scaleX(0.7650);transform-origin:50% 50%">3<i>1</i></div>
<div class="t" style="font-size:19.8px;color:#fff;left:250.85px;top:943.98px;transform:translateX(-50%) scaleX(0.7650);transform-origin:50% 50%">98. 30</div>
<div class="t" style="font-size:19.8px;color:#fff;left:331.25px;top:943.98px;transform:translateX(-50%) scaleX(0.7650);transform-origin:50% 50%">94. <i>1</i>5</div>
<div class="t" style="font-size:19.8px;color:#fff;left:413.35px;top:943.98px;transform:translateX(-50%) scaleX(0.7650);transform-origin:50% 50%"><i>1</i><i>1</i></div>
<div class="t" style="font-size:19.8px;color:#fff;left:480.10px;top:943.98px;transform:translateX(-50%) scaleX(0.7650);transform-origin:50% 50%"><i>1</i>2</div>
<div class="t" style="font-size:19.8px;color:#fff;left:180.50px;top:995.73px;transform:translateX(-50%) scaleX(0.7650);transform-origin:50% 50%">32</div>
<div class="t" style="font-size:19.8px;color:#fff;left:250.85px;top:995.73px;transform:translateX(-50%) scaleX(0.7650);transform-origin:50% 50%"><i>1</i>0<i>1</i>. 30</div>
<div class="t" style="font-size:19.8px;color:#fff;left:331.25px;top:995.73px;transform:translateX(-50%) scaleX(0.7650);transform-origin:50% 50%">97. <i>1</i>7</div>
<div class="t" style="font-size:19.8px;color:#fff;left:413.35px;top:995.73px;transform:translateX(-50%) scaleX(0.7650);transform-origin:50% 50%"><i>1</i><i>1</i></div>
<div class="t" style="font-size:19.8px;color:#fff;left:480.10px;top:995.73px;transform:translateX(-50%) scaleX(0.7650);transform-origin:50% 50%"><i>1</i>2</div>
<div class="t" style="font-size:19.8px;color:#fff;left:545.35px;top:995.73px;transform:translateX(-50%) scaleX(0.7650);transform-origin:50% 50%">0. 27</div>
<div class="t" style="font-size:19.8px;color:#fff;left:180.50px;top:1047.63px;transform:translateX(-50%) scaleX(0.7650);transform-origin:50% 50%">33</div>
<div class="t" style="font-size:19.8px;color:#fff;left:250.85px;top:1047.63px;transform:translateX(-50%) scaleX(0.7650);transform-origin:50% 50%"><i>1</i>04. 30</div>
<div class="t" style="font-size:19.8px;color:#fff;left:331.25px;top:1047.63px;transform:translateX(-50%) scaleX(0.7650);transform-origin:50% 50%"><i>1</i>00. 20</div>
<div class="t" style="font-size:19.8px;color:#fff;left:413.35px;top:1047.63px;transform:translateX(-50%) scaleX(0.7650);transform-origin:50% 50%"><i>1</i><i>1</i></div>
<div class="t" style="font-size:19.8px;color:#fff;left:480.10px;top:1047.63px;transform:translateX(-50%) scaleX(0.7650);transform-origin:50% 50%"><i>1</i>2</div>
<div class="t" style="font-size:19.8px;color:#fff;left:545.35px;top:1047.63px;transform:translateX(-50%) scaleX(0.7650);transform-origin:50% 50%">0. 28</div>
<div class="t" style="font-size:19.8px;color:#fff;left:180.50px;top:1099.53px;transform:translateX(-50%) scaleX(0.7650);transform-origin:50% 50%">34</div>
<div class="t" style="font-size:19.8px;color:#fff;left:250.85px;top:1099.53px;transform:translateX(-50%) scaleX(0.7650);transform-origin:50% 50%"><i>1</i>07. 30</div>
<div class="t" style="font-size:19.8px;color:#fff;left:331.25px;top:1099.53px;transform:translateX(-50%) scaleX(0.7650);transform-origin:50% 50%"><i>1</i>03. 23</div>
<div class="t" style="font-size:19.8px;color:#fff;left:413.35px;top:1099.53px;transform:translateX(-50%) scaleX(0.7650);transform-origin:50% 50%"><i>1</i><i>1</i></div>
<div class="t" style="font-size:19.8px;color:#fff;left:480.10px;top:1099.53px;transform:translateX(-50%) scaleX(0.7650);transform-origin:50% 50%"><i>1</i>2</div>
<div class="t" style="font-size:19.8px;color:#fff;left:545.35px;top:1099.53px;transform:translateX(-50%) scaleX(0.7650);transform-origin:50% 50%">0. 29</div>
<div class="t" style="font-size:19.8px;color:#fff;left:180.50px;top:1151.28px;transform:translateX(-50%) scaleX(0.7650);transform-origin:50% 50%">35</div>
<div class="t" style="font-size:19.8px;color:#fff;left:250.85px;top:1151.28px;transform:translateX(-50%) scaleX(0.7650);transform-origin:50% 50%"><i>1</i><i>1</i>0. 40</div>
<div class="t" style="font-size:19.8px;color:#fff;left:331.25px;top:1151.28px;transform:translateX(-50%) scaleX(0.7650);transform-origin:50% 50%"><i>1</i>06. 26</div>
<div class="t" style="font-size:19.8px;color:#fff;left:413.35px;top:1151.28px;transform:translateX(-50%) scaleX(0.7650);transform-origin:50% 50%"><i>1</i><i>1</i></div>
<div class="t" style="font-size:19.8px;color:#fff;left:480.10px;top:1151.28px;transform:translateX(-50%) scaleX(0.7650);transform-origin:50% 50%"><i>1</i>2</div>
<div class="t" style="font-size:19.8px;color:#fff;left:545.35px;top:1151.28px;transform:translateX(-50%) scaleX(0.7650);transform-origin:50% 50%">0. 30</div>
<div class="t" style="font-size:19.8px;color:#fff;left:180.50px;top:1203.08px;transform:translateX(-50%) scaleX(0.7650);transform-origin:50% 50%">36</div>
<div class="t" style="font-size:19.8px;color:#fff;left:250.85px;top:1203.08px;transform:translateX(-50%) scaleX(0.7650);transform-origin:50% 50%"><i>1</i><i>1</i>3. 40</div>
<div class="t" style="font-size:19.8px;color:#fff;left:331.25px;top:1203.08px;transform:translateX(-50%) scaleX(0.7650);transform-origin:50% 50%"><i>1</i>09. 29</div>
<div class="t" style="font-size:19.8px;color:#fff;left:413.35px;top:1203.08px;transform:translateX(-50%) scaleX(0.7650);transform-origin:50% 50%"><i>1</i>2</div>
<div class="t" style="font-size:19.8px;color:#fff;left:480.10px;top:1203.08px;transform:translateX(-50%) scaleX(0.7650);transform-origin:50% 50%"><i>1</i>3</div>
<div class="t" style="font-size:19.8px;color:#fff;left:180.50px;top:1254.68px;transform:translateX(-50%) scaleX(0.7650);transform-origin:50% 50%">37</div>
<div class="t" style="font-size:19.8px;color:#fff;left:250.85px;top:1254.68px;transform:translateX(-50%) scaleX(0.7650);transform-origin:50% 50%"><i>1</i><i>1</i>6. 40</div>
<div class="t" style="font-size:19.8px;color:#fff;left:331.25px;top:1254.68px;transform:translateX(-50%) scaleX(0.7650);transform-origin:50% 50%"><i>1</i><i>1</i>2. 32</div>
<div class="t" style="font-size:19.8px;color:#fff;left:413.35px;top:1254.68px;transform:translateX(-50%) scaleX(0.7650);transform-origin:50% 50%"><i>1</i>2</div>
<div class="t" style="font-size:19.8px;color:#fff;left:480.10px;top:1254.68px;transform:translateX(-50%) scaleX(0.7650);transform-origin:50% 50%"><i>1</i>3</div>
<div class="t" style="font-size:19.8px;color:#fff;left:545.35px;top:1254.68px;transform:translateX(-50%) scaleX(0.7650);transform-origin:50% 50%">0. 32</div>
<div class="t" style="font-size:19.8px;color:#fff;left:180.50px;top:1306.38px;transform:translateX(-50%) scaleX(0.7650);transform-origin:50% 50%">38</div>
<div class="t" style="font-size:19.8px;color:#fff;left:250.85px;top:1306.38px;transform:translateX(-50%) scaleX(0.7650);transform-origin:50% 50%"><i>1</i><i>1</i>9. 50</div>
<div class="t" style="font-size:19.8px;color:#fff;left:331.25px;top:1306.38px;transform:translateX(-50%) scaleX(0.7650);transform-origin:50% 50%"><i>1</i><i>1</i>5. 35</div>
<div class="t" style="font-size:19.8px;color:#fff;left:413.35px;top:1306.38px;transform:translateX(-50%) scaleX(0.7650);transform-origin:50% 50%"><i>1</i>2</div>
<div class="t" style="font-size:19.8px;color:#fff;left:480.10px;top:1306.38px;transform:translateX(-50%) scaleX(0.7650);transform-origin:50% 50%"><i>1</i>3</div>
<div class="t" style="font-size:19.8px;color:#fff;left:545.35px;top:1306.38px;transform:translateX(-50%) scaleX(0.7650);transform-origin:50% 50%">0. 37</div>
<div class="t" style="font-size:19.8px;color:#fff;left:180.50px;top:1358.13px;transform:translateX(-50%) scaleX(0.7650);transform-origin:50% 50%">39</div>
<div class="t" style="font-size:19.8px;color:#fff;left:250.85px;top:1358.13px;transform:translateX(-50%) scaleX(0.7650);transform-origin:50% 50%"><i>1</i>22. 50</div>
<div class="t" style="font-size:19.8px;color:#fff;left:331.25px;top:1358.13px;transform:translateX(-50%) scaleX(0.7650);transform-origin:50% 50%"><i>1</i><i>1</i>8. 37</div>
<div class="t" style="font-size:19.8px;color:#fff;left:413.35px;top:1358.13px;transform:translateX(-50%) scaleX(0.7650);transform-origin:50% 50%"><i>1</i>2</div>
<div class="t" style="font-size:19.8px;color:#fff;left:480.10px;top:1358.13px;transform:translateX(-50%) scaleX(0.7650);transform-origin:50% 50%"><i>1</i>3</div>
<div class="t" style="font-size:19.8px;color:#fff;left:180.50px;top:1409.73px;transform:translateX(-50%) scaleX(0.7650);transform-origin:50% 50%">40</div>
<div class="t" style="font-size:19.8px;color:#fff;left:250.85px;top:1409.73px;transform:translateX(-50%) scaleX(0.7650);transform-origin:50% 50%"><i>1</i>25. 50</div>
<div class="t" style="font-size:19.8px;color:#fff;left:331.25px;top:1409.73px;transform:translateX(-50%) scaleX(0.7650);transform-origin:50% 50%"><i>1</i>2<i>1</i>. 40</div>
<div class="t" style="font-size:19.8px;color:#fff;left:413.35px;top:1409.73px;transform:translateX(-50%) scaleX(0.7650);transform-origin:50% 50%"><i>1</i>2</div>
<div class="t" style="font-size:19.8px;color:#fff;left:480.10px;top:1409.73px;transform:translateX(-50%) scaleX(0.7650);transform-origin:50% 50%"><i>1</i>3</div>
<div class="t" style="font-size:19.8px;color:#fff;left:545.35px;top:1409.73px;transform:translateX(-50%) scaleX(0.7650);transform-origin:50% 50%">0. 40</div>
<div class="t" style="font-size:19.8px;color:#fff;left:180.50px;top:1456.48px;transform:translateX(-50%) scaleX(0.7650);transform-origin:50% 50%">45</div>
<div class="t" style="font-size:19.8px;color:#fff;left:250.85px;top:1456.48px;transform:translateX(-50%) scaleX(0.7650);transform-origin:50% 50%"><i>1</i>40. 70</div>
<div class="t" style="font-size:19.8px;color:#fff;left:331.25px;top:1456.48px;transform:translateX(-50%) scaleX(0.7650);transform-origin:50% 50%"><i>1</i>36. 55</div>
<div class="t" style="font-size:19.8px;color:#fff;left:413.35px;top:1456.48px;transform:translateX(-50%) scaleX(0.7650);transform-origin:50% 50%"><i>1</i>2</div>
<div class="t" style="font-size:19.8px;color:#fff;left:480.10px;top:1456.48px;transform:translateX(-50%) scaleX(0.7650);transform-origin:50% 50%"><i>1</i>3</div>
<div class="t" style="font-size:19.8px;color:#fff;left:545.35px;top:1456.48px;transform:translateX(-50%) scaleX(0.7650);transform-origin:50% 50%">0. 49</div>
<div class="t" style="font-size:19.8px;color:#fff;left:180.50px;top:1499.43px;transform:translateX(-50%) scaleX(0.7650);transform-origin:50% 50%">50</div>
<div class="t" style="font-size:19.8px;color:#fff;left:250.85px;top:1499.43px;transform:translateX(-50%) scaleX(0.7650);transform-origin:50% 50%"><i>1</i>55. 70</div>
<div class="t" style="font-size:19.8px;color:#fff;left:331.25px;top:1499.43px;transform:translateX(-50%) scaleX(0.7650);transform-origin:50% 50%"><i>1</i>5<i>1</i>. 69</div>
<div class="t" style="font-size:19.8px;color:#fff;left:413.35px;top:1499.43px;transform:translateX(-50%) scaleX(0.7650);transform-origin:50% 50%"><i>1</i>4</div>
<div class="t" style="font-size:19.8px;color:#fff;left:480.10px;top:1499.43px;transform:translateX(-50%) scaleX(0.7650);transform-origin:50% 50%"><i>1</i>5</div>
<div class="t" style="font-size:19.8px;color:#fff;left:545.35px;top:1499.43px;transform:translateX(-50%) scaleX(0.7650);transform-origin:50% 50%">0. 60</div>
<div class="t" style="font-size:19.8px;color:#fff;left:180.50px;top:1547.03px;transform:translateX(-50%) scaleX(0.7650);transform-origin:50% 50%">57</div>
<div class="t" style="font-size:19.8px;color:#fff;left:250.85px;top:1547.03px;transform:translateX(-50%) scaleX(0.7650);transform-origin:50% 50%"><i>1</i>76. 90</div>
<div class="t" style="font-size:19.8px;color:#fff;left:331.25px;top:1547.03px;transform:translateX(-50%) scaleX(0.7650);transform-origin:50% 50%"><i>1</i>72. 9<i>1</i></div>
<div class="t" style="font-size:19.8px;color:#fff;left:413.35px;top:1547.03px;transform:translateX(-50%) scaleX(0.7650);transform-origin:50% 50%"><i>1</i>4</div>
<div class="t" style="font-size:19.8px;color:#fff;left:480.10px;top:1547.03px;transform:translateX(-50%) scaleX(0.7650);transform-origin:50% 50%"><i>1</i>5</div>
<div class="t" style="font-size:19.8px;color:#fff;left:180.50px;top:1598.38px;transform:translateX(-50%) scaleX(0.7650);transform-origin:50% 50%">76</div>
<div class="t" style="font-size:19.8px;color:#fff;left:250.85px;top:1598.38px;transform:translateX(-50%) scaleX(0.7650);transform-origin:50% 50%">234. 90</div>
<div class="t" style="font-size:19.8px;color:#fff;left:331.25px;top:1598.38px;transform:translateX(-50%) scaleX(0.7650);transform-origin:50% 50%">230. 49</div>
<div class="t" style="font-size:19.8px;color:#fff;left:413.35px;top:1598.38px;transform:translateX(-50%) scaleX(0.7650);transform-origin:50% 50%"><i>1</i>6</div>
<div class="t" style="font-size:19.8px;color:#fff;left:480.10px;top:1598.38px;transform:translateX(-50%) scaleX(0.7650);transform-origin:50% 50%"><i>1</i>7</div>
<div class="t" style="font-size:19.8px;color:#fff;left:180.50px;top:1650.38px;transform:translateX(-50%) scaleX(0.7650);transform-origin:50% 50%">95</div>
<div class="t" style="font-size:19.8px;color:#fff;left:250.85px;top:1650.38px;transform:translateX(-50%) scaleX(0.7650);transform-origin:50% 50%">292. 50</div>
<div class="t" style="font-size:19.8px;color:#fff;left:331.25px;top:1650.38px;transform:translateX(-50%) scaleX(0.7650);transform-origin:50% 50%">288. 08</div>
<div class="t" style="font-size:19.8px;color:#fff;left:413.35px;top:1650.38px;transform:translateX(-50%) scaleX(0.7650);transform-origin:50% 50%"><i>1</i>6</div>
<div class="t" style="font-size:19.8px;color:#fff;left:480.10px;top:1650.38px;transform:translateX(-50%) scaleX(0.7650);transform-origin:50% 50%"><i>1</i>7</div>
<div class="t" style="font-size:19.8px;color:#fff;left:180.50px;top:1701.33px;transform:translateX(-50%) scaleX(0.7650);transform-origin:50% 50%"><i>1</i><i>1</i>4</div>
<div class="t" style="font-size:19.8px;color:#fff;left:250.85px;top:1701.33px;transform:translateX(-50%) scaleX(0.7650);transform-origin:50% 50%">349. 50</div>
<div class="t" style="font-size:19.8px;color:#fff;left:331.25px;top:1701.33px;transform:translateX(-50%) scaleX(0.7650);transform-origin:50% 50%">345. 68</div>
<div class="t" style="font-size:18.8px;color:#fff;left:101.20px;top:1242.94px;transform:translateX(-50%) scaleX(0.8430);transform-origin:50% 50%">06B-TA</div>
<div class="t" style="font-size:17px;color:#15130f;font-weight:700;left:634.30px;top:677.21px;transform:translateX(-50%) scaleX(0.7769);transform-origin:50% 50%">TYPE</div>
<div class="t" style="font-size:17px;color:#15130f;font-weight:700;left:634.30px;top:723.41px;transform:translateX(-50%) scaleX(0.8175);transform-origin:50% 50%">(B-type)</div>
<div class="t" style="font-size:17px;color:#15130f;font-weight:700;left:702.20px;top:677.21px;transform:translateX(-50%) scaleX(0.7827);transform-origin:50% 50%">No.of</div>
<div class="t" style="font-size:17px;color:#15130f;font-weight:700;left:702.20px;top:723.41px;transform:translateX(-50%) scaleX(0.7946);transform-origin:50% 50%">Tooth</div>
<div class="t" style="font-size:17px;color:#15130f;font-weight:700;left:762.30px;top:654.41px;transform:translateX(-50%) scaleX(0.7899);transform-origin:50% 50%">Outside</div>
<div class="t" style="font-size:17px;color:#15130f;font-weight:700;left:762.30px;top:700.81px;transform:translateX(-50%) scaleX(0.8016);transform-origin:50% 50%">Dia.</div>
<div class="t" style="font-size:17px;color:#15130f;font-weight:700;left:762.30px;top:746.21px;transform:translateX(-50%) scaleX(0.7498);transform-origin:50% 50%">Do</div>
<div class="t" style="font-size:17px;color:#15130f;font-weight:700;left:821.40px;top:654.41px;transform:translateX(-50%) scaleX(0.7699);transform-origin:50% 50%">Pitch</div>
<div class="t" style="font-size:17px;color:#15130f;font-weight:700;left:822.70px;top:700.81px;transform:translateX(-50%) scaleX(0.8016);transform-origin:50% 50%">Dia.</div>
<div class="t" style="font-size:17px;color:#15130f;font-weight:700;left:822.70px;top:746.21px;transform:translateX(-50%) scaleX(0.7719);transform-origin:50% 50%">Dp</div>
<div class="t" style="font-size:17px;color:#15130f;font-weight:700;left:935.50px;top:655.31px;transform:translateX(-50%) scaleX(0.8031);transform-origin:50% 50%">Shaft Bore Dia. d</div>
<div class="t" style="font-size:17px;color:#15130f;font-weight:700;left:885.20px;top:722.61px;transform:translateX(-50%) scaleX(0.7974);transform-origin:50% 50%">Drill hole</div>
<div class="t" style="font-size:17px;color:#15130f;font-weight:700;font-style:italic;left:942.00px;top:722.61px;transform:translateX(-50%) scaleX(0.7855);transform-origin:50% 50%">Min</div>
<div class="t" style="font-size:17px;color:#15130f;font-weight:700;font-style:italic;left:993.00px;top:722.61px;transform:translateX(-50%) scaleX(0.8162);transform-origin:50% 50%">Max</div>
<div class="t" style="font-size:17px;color:#15130f;font-weight:700;left:1047.20px;top:654.41px;transform:translateX(-50%) scaleX(0.7868);transform-origin:50% 50%">Hub</div>
<div class="t" style="font-size:17px;color:#15130f;font-weight:700;left:1047.90px;top:700.81px;transform:translateX(-50%) scaleX(0.8016);transform-origin:50% 50%">Dia.</div>
<div class="t" style="font-size:17px;color:#15130f;font-weight:700;left:1047.90px;top:746.21px;transform:translateX(-50%) scaleX(0.7939);transform-origin:50% 50%">BD</div>
<div class="t" style="font-size:17px;color:#15130f;font-weight:700;left:1108.60px;top:654.41px;transform:translateX(-50%) scaleX(0.7868);transform-origin:50% 50%">Hub</div>
<div class="t" style="font-size:17px;color:#15130f;font-weight:700;left:1108.90px;top:700.81px;transform:translateX(-50%) scaleX(0.7943);transform-origin:50% 50%">Length</div>
<div class="t" style="font-size:17px;color:#15130f;font-weight:700;left:1108.90px;top:746.21px;transform:translateX(-50%) scaleX(0.7278);transform-origin:50% 50%">BL</div>
<div class="t" style="font-size:17px;color:#15130f;font-weight:700;left:1169.40px;top:677.81px;transform:translateX(-50%) scaleX(0.7984);transform-origin:50% 50%">Weight</div>
<div class="t" style="font-size:17px;color:#15130f;font-weight:700;left:1169.40px;top:723.41px;transform:translateX(-50%) scaleX(0.7378);transform-origin:50% 50%">(kg)</div>
<div class="t" style="font-size:15px;color:#15130f;font-weight:700;left:1221.60px;top:713.00px;transform:translate(-50%,-50%) rotate(90deg) scaleX(1.2536);transform-origin:50% 50%">Construction</div>
<div class="t" style="font-size:15px;color:#15130f;font-weight:700;left:1273.40px;top:713.70px;transform:translate(-50%,-50%) rotate(90deg) scaleX(1.2874);transform-origin:50% 50%">Material</div>
<div class="t" style="font-size:19px;color:#fff;left:702.95px;top:788.27px;transform:translateX(-50%) scaleX(0.6850);transform-origin:50% 50%">27</div>
<div class="t" style="font-size:19px;color:#fff;left:763.25px;top:788.27px;transform:translateX(-50%) scaleX(0.6850);transform-origin:50% 50%">86. 00</div>
<div class="t" style="font-size:19px;color:#fff;left:823.70px;top:788.27px;transform:translateX(-50%) scaleX(0.6850);transform-origin:50% 50%">82. 02</div>
<div class="t" style="font-size:19px;color:#fff;left:885.60px;top:788.27px;transform:translateX(-50%) scaleX(0.6850);transform-origin:50% 50%"><i>1</i><i>1</i></div>
<div class="t" style="font-size:19px;color:#fff;left:942.75px;top:788.27px;transform:translateX(-50%) scaleX(0.6850);transform-origin:50% 50%"><i>1</i>2</div>
<div class="t" style="font-size:19px;color:#fff;left:993.50px;top:788.27px;transform:translateX(-50%) scaleX(0.6850);transform-origin:50% 50%">32</div>
<div class="t" style="font-size:19px;color:#fff;left:1048.85px;top:788.27px;transform:translateX(-50%) scaleX(0.6850);transform-origin:50% 50%">53</div>
<div class="t" style="font-size:19px;color:#fff;left:1109.30px;top:788.27px;transform:translateX(-50%) scaleX(0.6850);transform-origin:50% 50%">22</div>
<div class="t" style="font-size:19px;color:#fff;left:1169.90px;top:788.27px;transform:translateX(-50%) scaleX(0.6850);transform-origin:50% 50%">0. 46</div>
<div class="t" style="font-size:19px;color:#fff;left:702.95px;top:837.67px;transform:translateX(-50%) scaleX(0.6850);transform-origin:50% 50%">28</div>
<div class="t" style="font-size:19px;color:#fff;left:763.25px;top:837.67px;transform:translateX(-50%) scaleX(0.6850);transform-origin:50% 50%">89. 00</div>
<div class="t" style="font-size:19px;color:#fff;left:823.70px;top:837.67px;transform:translateX(-50%) scaleX(0.6850);transform-origin:50% 50%">85. 07</div>
<div class="t" style="font-size:19px;color:#fff;left:885.60px;top:837.67px;transform:translateX(-50%) scaleX(0.6850);transform-origin:50% 50%"><i>1</i><i>1</i></div>
<div class="t" style="font-size:19px;color:#fff;left:942.75px;top:837.67px;transform:translateX(-50%) scaleX(0.6850);transform-origin:50% 50%"><i>1</i>2</div>
<div class="t" style="font-size:19px;color:#fff;left:993.50px;top:837.67px;transform:translateX(-50%) scaleX(0.6850);transform-origin:50% 50%">32</div>
<div class="t" style="font-size:19px;color:#fff;left:1048.85px;top:837.67px;transform:translateX(-50%) scaleX(0.6850);transform-origin:50% 50%">53</div>
<div class="t" style="font-size:19px;color:#fff;left:1109.30px;top:837.67px;transform:translateX(-50%) scaleX(0.6850);transform-origin:50% 50%">22</div>
<div class="t" style="font-size:19px;color:#fff;left:1169.90px;top:837.67px;transform:translateX(-50%) scaleX(0.6850);transform-origin:50% 50%">0. 48</div>
<div class="t" style="font-size:19px;color:#fff;left:702.95px;top:886.82px;transform:translateX(-50%) scaleX(0.6850);transform-origin:50% 50%">29</div>
<div class="t" style="font-size:19px;color:#fff;left:763.25px;top:886.82px;transform:translateX(-50%) scaleX(0.6850);transform-origin:50% 50%">92. 00</div>
<div class="t" style="font-size:19px;color:#fff;left:823.70px;top:886.82px;transform:translateX(-50%) scaleX(0.6850);transform-origin:50% 50%">88. 09</div>
<div class="t" style="font-size:19px;color:#fff;left:885.60px;top:886.82px;transform:translateX(-50%) scaleX(0.6850);transform-origin:50% 50%"><i>1</i><i>1</i></div>
<div class="t" style="font-size:19px;color:#fff;left:942.75px;top:886.82px;transform:translateX(-50%) scaleX(0.6850);transform-origin:50% 50%"><i>1</i>2</div>
<div class="t" style="font-size:19px;color:#fff;left:993.50px;top:886.82px;transform:translateX(-50%) scaleX(0.6850);transform-origin:50% 50%">32</div>
<div class="t" style="font-size:19px;color:#fff;left:1048.85px;top:886.82px;transform:translateX(-50%) scaleX(0.6850);transform-origin:50% 50%">53</div>
<div class="t" style="font-size:19px;color:#fff;left:1109.30px;top:886.82px;transform:translateX(-50%) scaleX(0.6850);transform-origin:50% 50%">22</div>
<div class="t" style="font-size:19px;color:#fff;left:1169.90px;top:886.82px;transform:translateX(-50%) scaleX(0.6850);transform-origin:50% 50%">0. 49</div>
<div class="t" style="font-size:19px;color:#fff;left:702.95px;top:935.92px;transform:translateX(-50%) scaleX(0.6850);transform-origin:50% 50%">30</div>
<div class="t" style="font-size:19px;color:#fff;left:763.25px;top:935.92px;transform:translateX(-50%) scaleX(0.6850);transform-origin:50% 50%">94. 70</div>
<div class="t" style="font-size:19px;color:#fff;left:823.70px;top:935.92px;transform:translateX(-50%) scaleX(0.6850);transform-origin:50% 50%">9<i>1</i>. <i>1</i>2</div>
<div class="t" style="font-size:19px;color:#fff;left:885.60px;top:935.92px;transform:translateX(-50%) scaleX(0.6850);transform-origin:50% 50%"><i>1</i><i>1</i></div>
<div class="t" style="font-size:19px;color:#fff;left:942.75px;top:935.92px;transform:translateX(-50%) scaleX(0.6850);transform-origin:50% 50%"><i>1</i>2</div>
<div class="t" style="font-size:19px;color:#fff;left:993.50px;top:935.92px;transform:translateX(-50%) scaleX(0.6850);transform-origin:50% 50%">32</div>
<div class="t" style="font-size:19px;color:#fff;left:1048.85px;top:935.92px;transform:translateX(-50%) scaleX(0.6850);transform-origin:50% 50%">53</div>
<div class="t" style="font-size:19px;color:#fff;left:1109.30px;top:935.92px;transform:translateX(-50%) scaleX(0.6850);transform-origin:50% 50%">22</div>
<div class="t" style="font-size:19px;color:#fff;left:1169.90px;top:935.92px;transform:translateX(-50%) scaleX(0.6850);transform-origin:50% 50%">0. 5<i>1</i></div>
<div class="t" style="font-size:19px;color:#fff;left:702.95px;top:984.97px;transform:translateX(-50%) scaleX(0.6850);transform-origin:50% 50%">3<i>1</i></div>
<div class="t" style="font-size:19px;color:#fff;left:763.25px;top:984.97px;transform:translateX(-50%) scaleX(0.6850);transform-origin:50% 50%">98. 30</div>
<div class="t" style="font-size:19px;color:#fff;left:823.70px;top:984.97px;transform:translateX(-50%) scaleX(0.6850);transform-origin:50% 50%">94. <i>1</i>5</div>
<div class="t" style="font-size:19px;color:#fff;left:885.60px;top:984.97px;transform:translateX(-50%) scaleX(0.6850);transform-origin:50% 50%"><i>1</i><i>1</i></div>
<div class="t" style="font-size:19px;color:#fff;left:942.75px;top:984.97px;transform:translateX(-50%) scaleX(0.6850);transform-origin:50% 50%"><i>1</i>2</div>
<div class="t" style="font-size:19px;color:#fff;left:993.50px;top:984.97px;transform:translateX(-50%) scaleX(0.6850);transform-origin:50% 50%">32</div>
<div class="t" style="font-size:19px;color:#fff;left:1048.85px;top:984.97px;transform:translateX(-50%) scaleX(0.6850);transform-origin:50% 50%">53</div>
<div class="t" style="font-size:19px;color:#fff;left:1109.30px;top:984.97px;transform:translateX(-50%) scaleX(0.6850);transform-origin:50% 50%">22</div>
<div class="t" style="font-size:19px;color:#fff;left:1169.90px;top:984.97px;transform:translateX(-50%) scaleX(0.6850);transform-origin:50% 50%">0. 53</div>
<div class="t" style="font-size:19px;color:#fff;left:702.95px;top:1034.12px;transform:translateX(-50%) scaleX(0.6850);transform-origin:50% 50%">32</div>
<div class="t" style="font-size:19px;color:#fff;left:763.25px;top:1034.12px;transform:translateX(-50%) scaleX(0.6850);transform-origin:50% 50%"><i>1</i>0<i>1</i>. 30</div>
<div class="t" style="font-size:19px;color:#fff;left:823.70px;top:1034.12px;transform:translateX(-50%) scaleX(0.6850);transform-origin:50% 50%">97. <i>1</i>7</div>
<div class="t" style="font-size:19px;color:#fff;left:885.60px;top:1034.12px;transform:translateX(-50%) scaleX(0.6850);transform-origin:50% 50%"><i>1</i><i>1</i></div>
<div class="t" style="font-size:19px;color:#fff;left:942.75px;top:1034.12px;transform:translateX(-50%) scaleX(0.6850);transform-origin:50% 50%"><i>1</i>2</div>
<div class="t" style="font-size:19px;color:#fff;left:993.50px;top:1034.12px;transform:translateX(-50%) scaleX(0.6850);transform-origin:50% 50%">32</div>
<div class="t" style="font-size:19px;color:#fff;left:1048.85px;top:1034.12px;transform:translateX(-50%) scaleX(0.6850);transform-origin:50% 50%">53</div>
<div class="t" style="font-size:19px;color:#fff;left:1109.30px;top:1034.12px;transform:translateX(-50%) scaleX(0.6850);transform-origin:50% 50%">22</div>
<div class="t" style="font-size:19px;color:#fff;left:1169.90px;top:1034.12px;transform:translateX(-50%) scaleX(0.6850);transform-origin:50% 50%">0. 54</div>
<div class="t" style="font-size:19px;color:#fff;left:702.95px;top:1083.22px;transform:translateX(-50%) scaleX(0.6850);transform-origin:50% 50%">33</div>
<div class="t" style="font-size:19px;color:#fff;left:763.25px;top:1083.22px;transform:translateX(-50%) scaleX(0.6850);transform-origin:50% 50%"><i>1</i>04. 30</div>
<div class="t" style="font-size:19px;color:#fff;left:823.70px;top:1083.22px;transform:translateX(-50%) scaleX(0.6850);transform-origin:50% 50%"><i>1</i>00. 20</div>
<div class="t" style="font-size:19px;color:#fff;left:885.60px;top:1083.22px;transform:translateX(-50%) scaleX(0.6850);transform-origin:50% 50%"><i>1</i><i>1</i></div>
<div class="t" style="font-size:19px;color:#fff;left:942.75px;top:1083.22px;transform:translateX(-50%) scaleX(0.6850);transform-origin:50% 50%"><i>1</i>2</div>
<div class="t" style="font-size:19px;color:#fff;left:993.50px;top:1083.22px;transform:translateX(-50%) scaleX(0.6850);transform-origin:50% 50%">32</div>
<div class="t" style="font-size:19px;color:#fff;left:1048.85px;top:1083.22px;transform:translateX(-50%) scaleX(0.6850);transform-origin:50% 50%">53</div>
<div class="t" style="font-size:19px;color:#fff;left:1109.30px;top:1083.22px;transform:translateX(-50%) scaleX(0.6850);transform-origin:50% 50%">22</div>
<div class="t" style="font-size:19px;color:#fff;left:1169.90px;top:1083.22px;transform:translateX(-50%) scaleX(0.6850);transform-origin:50% 50%">0. 56</div>
<div class="t" style="font-size:19px;color:#fff;left:702.95px;top:1132.42px;transform:translateX(-50%) scaleX(0.6850);transform-origin:50% 50%">34</div>
<div class="t" style="font-size:19px;color:#fff;left:763.25px;top:1132.42px;transform:translateX(-50%) scaleX(0.6850);transform-origin:50% 50%"><i>1</i>07. 30</div>
<div class="t" style="font-size:19px;color:#fff;left:823.70px;top:1132.42px;transform:translateX(-50%) scaleX(0.6850);transform-origin:50% 50%"><i>1</i>03. 23</div>
<div class="t" style="font-size:19px;color:#fff;left:885.60px;top:1132.42px;transform:translateX(-50%) scaleX(0.6850);transform-origin:50% 50%"><i>1</i><i>1</i></div>
<div class="t" style="font-size:19px;color:#fff;left:942.75px;top:1132.42px;transform:translateX(-50%) scaleX(0.6850);transform-origin:50% 50%"><i>1</i>2</div>
<div class="t" style="font-size:19px;color:#fff;left:993.50px;top:1132.42px;transform:translateX(-50%) scaleX(0.6850);transform-origin:50% 50%">32</div>
<div class="t" style="font-size:19px;color:#fff;left:1048.85px;top:1132.42px;transform:translateX(-50%) scaleX(0.6850);transform-origin:50% 50%">53</div>
<div class="t" style="font-size:19px;color:#fff;left:1109.30px;top:1132.42px;transform:translateX(-50%) scaleX(0.6850);transform-origin:50% 50%">22</div>
<div class="t" style="font-size:19px;color:#fff;left:1169.90px;top:1132.42px;transform:translateX(-50%) scaleX(0.6850);transform-origin:50% 50%">0. 57</div>
<div class="t" style="font-size:19px;color:#fff;left:702.95px;top:1181.72px;transform:translateX(-50%) scaleX(0.6850);transform-origin:50% 50%">35</div>
<div class="t" style="font-size:19px;color:#fff;left:763.25px;top:1181.72px;transform:translateX(-50%) scaleX(0.6850);transform-origin:50% 50%"><i>1</i><i>1</i>0. 40</div>
<div class="t" style="font-size:19px;color:#fff;left:823.70px;top:1181.72px;transform:translateX(-50%) scaleX(0.6850);transform-origin:50% 50%"><i>1</i>06. 26</div>
<div class="t" style="font-size:19px;color:#fff;left:885.60px;top:1181.72px;transform:translateX(-50%) scaleX(0.6850);transform-origin:50% 50%"><i>1</i><i>1</i></div>
<div class="t" style="font-size:19px;color:#fff;left:942.75px;top:1181.72px;transform:translateX(-50%) scaleX(0.6850);transform-origin:50% 50%"><i>1</i>2</div>
<div class="t" style="font-size:19px;color:#fff;left:993.50px;top:1181.72px;transform:translateX(-50%) scaleX(0.6850);transform-origin:50% 50%">32</div>
<div class="t" style="font-size:19px;color:#fff;left:1048.85px;top:1181.72px;transform:translateX(-50%) scaleX(0.6850);transform-origin:50% 50%">53</div>
<div class="t" style="font-size:19px;color:#fff;left:1109.30px;top:1181.72px;transform:translateX(-50%) scaleX(0.6850);transform-origin:50% 50%">22</div>
<div class="t" style="font-size:19px;color:#fff;left:1169.90px;top:1181.72px;transform:translateX(-50%) scaleX(0.6850);transform-origin:50% 50%">0. 59</div>
<div class="t" style="font-size:19px;color:#fff;left:702.95px;top:1230.67px;transform:translateX(-50%) scaleX(0.6850);transform-origin:50% 50%">36</div>
<div class="t" style="font-size:19px;color:#fff;left:763.25px;top:1230.67px;transform:translateX(-50%) scaleX(0.6850);transform-origin:50% 50%"><i>1</i><i>1</i>3. 40</div>
<div class="t" style="font-size:19px;color:#fff;left:823.70px;top:1230.67px;transform:translateX(-50%) scaleX(0.6850);transform-origin:50% 50%"><i>1</i>09. 29</div>
<div class="t" style="font-size:19px;color:#fff;left:885.60px;top:1230.67px;transform:translateX(-50%) scaleX(0.6850);transform-origin:50% 50%"><i>1</i>2</div>
<div class="t" style="font-size:19px;color:#fff;left:942.75px;top:1230.67px;transform:translateX(-50%) scaleX(0.6850);transform-origin:50% 50%"><i>1</i>3</div>
<div class="t" style="font-size:19px;color:#fff;left:993.50px;top:1230.67px;transform:translateX(-50%) scaleX(0.6850);transform-origin:50% 50%">32</div>
<div class="t" style="font-size:19px;color:#fff;left:1048.85px;top:1230.67px;transform:translateX(-50%) scaleX(0.6850);transform-origin:50% 50%">53</div>
<div class="t" style="font-size:19px;color:#fff;left:1109.30px;top:1230.67px;transform:translateX(-50%) scaleX(0.6850);transform-origin:50% 50%">22</div>
<div class="t" style="font-size:19px;color:#fff;left:1169.90px;top:1230.67px;transform:translateX(-50%) scaleX(0.6850);transform-origin:50% 50%">0. 6<i>1</i></div>
<div class="t" style="font-size:19px;color:#fff;left:702.95px;top:1279.57px;transform:translateX(-50%) scaleX(0.6850);transform-origin:50% 50%">37</div>
<div class="t" style="font-size:19px;color:#fff;left:763.25px;top:1279.57px;transform:translateX(-50%) scaleX(0.6850);transform-origin:50% 50%"><i>1</i><i>1</i>6. 40</div>
<div class="t" style="font-size:19px;color:#fff;left:823.70px;top:1279.57px;transform:translateX(-50%) scaleX(0.6850);transform-origin:50% 50%"><i>1</i><i>1</i>2. 32</div>
<div class="t" style="font-size:19px;color:#fff;left:885.60px;top:1279.57px;transform:translateX(-50%) scaleX(0.6850);transform-origin:50% 50%"><i>1</i>2</div>
<div class="t" style="font-size:19px;color:#fff;left:942.75px;top:1279.57px;transform:translateX(-50%) scaleX(0.6850);transform-origin:50% 50%"><i>1</i>3</div>
<div class="t" style="font-size:19px;color:#fff;left:993.50px;top:1279.57px;transform:translateX(-50%) scaleX(0.6850);transform-origin:50% 50%">42</div>
<div class="t" style="font-size:19px;color:#fff;left:1048.85px;top:1279.57px;transform:translateX(-50%) scaleX(0.6850);transform-origin:50% 50%">63</div>
<div class="t" style="font-size:19px;color:#fff;left:1109.30px;top:1279.57px;transform:translateX(-50%) scaleX(0.6850);transform-origin:50% 50%">25</div>
<div class="t" style="font-size:19px;color:#fff;left:1169.90px;top:1279.57px;transform:translateX(-50%) scaleX(0.6850);transform-origin:50% 50%">0. 80</div>
<div class="t" style="font-size:19px;color:#fff;left:702.95px;top:1328.72px;transform:translateX(-50%) scaleX(0.6850);transform-origin:50% 50%">38</div>
<div class="t" style="font-size:19px;color:#fff;left:763.25px;top:1328.72px;transform:translateX(-50%) scaleX(0.6850);transform-origin:50% 50%"><i>1</i><i>1</i>9. 50</div>
<div class="t" style="font-size:19px;color:#fff;left:823.70px;top:1328.72px;transform:translateX(-50%) scaleX(0.6850);transform-origin:50% 50%"><i>1</i><i>1</i>5. 35</div>
<div class="t" style="font-size:19px;color:#fff;left:885.60px;top:1328.72px;transform:translateX(-50%) scaleX(0.6850);transform-origin:50% 50%"><i>1</i>2</div>
<div class="t" style="font-size:19px;color:#fff;left:942.75px;top:1328.72px;transform:translateX(-50%) scaleX(0.6850);transform-origin:50% 50%"><i>1</i>3</div>
<div class="t" style="font-size:19px;color:#fff;left:993.50px;top:1328.72px;transform:translateX(-50%) scaleX(0.6850);transform-origin:50% 50%">42</div>
<div class="t" style="font-size:19px;color:#fff;left:1048.85px;top:1328.72px;transform:translateX(-50%) scaleX(0.6850);transform-origin:50% 50%">63</div>
<div class="t" style="font-size:19px;color:#fff;left:1109.30px;top:1328.72px;transform:translateX(-50%) scaleX(0.6850);transform-origin:50% 50%">25</div>
<div class="t" style="font-size:19px;color:#fff;left:1169.90px;top:1328.72px;transform:translateX(-50%) scaleX(0.6850);transform-origin:50% 50%">0. 82</div>
<div class="t" style="font-size:19px;color:#fff;left:702.95px;top:1377.92px;transform:translateX(-50%) scaleX(0.6850);transform-origin:50% 50%">39</div>
<div class="t" style="font-size:19px;color:#fff;left:763.25px;top:1377.92px;transform:translateX(-50%) scaleX(0.6850);transform-origin:50% 50%"><i>1</i>22. 50</div>
<div class="t" style="font-size:19px;color:#fff;left:823.70px;top:1377.92px;transform:translateX(-50%) scaleX(0.6850);transform-origin:50% 50%"><i>1</i><i>1</i>8. 37</div>
<div class="t" style="font-size:19px;color:#fff;left:885.60px;top:1377.92px;transform:translateX(-50%) scaleX(0.6850);transform-origin:50% 50%"><i>1</i>2</div>
<div class="t" style="font-size:19px;color:#fff;left:942.75px;top:1377.92px;transform:translateX(-50%) scaleX(0.6850);transform-origin:50% 50%"><i>1</i>3</div>
<div class="t" style="font-size:19px;color:#fff;left:993.50px;top:1377.92px;transform:translateX(-50%) scaleX(0.6850);transform-origin:50% 50%">42</div>
<div class="t" style="font-size:19px;color:#fff;left:1048.85px;top:1377.92px;transform:translateX(-50%) scaleX(0.6850);transform-origin:50% 50%">63</div>
<div class="t" style="font-size:19px;color:#fff;left:1109.30px;top:1377.92px;transform:translateX(-50%) scaleX(0.6850);transform-origin:50% 50%">25</div>
<div class="t" style="font-size:19px;color:#fff;left:1169.90px;top:1377.92px;transform:translateX(-50%) scaleX(0.6850);transform-origin:50% 50%">0. 84</div>
<div class="t" style="font-size:19px;color:#fff;left:702.95px;top:1423.27px;transform:translateX(-50%) scaleX(0.6850);transform-origin:50% 50%">40</div>
<div class="t" style="font-size:19px;color:#fff;left:763.25px;top:1423.27px;transform:translateX(-50%) scaleX(0.6850);transform-origin:50% 50%"><i>1</i>25. 50</div>
<div class="t" style="font-size:19px;color:#fff;left:823.70px;top:1423.27px;transform:translateX(-50%) scaleX(0.6850);transform-origin:50% 50%"><i>1</i>2<i>1</i>. 40</div>
<div class="t" style="font-size:19px;color:#fff;left:885.60px;top:1423.27px;transform:translateX(-50%) scaleX(0.6850);transform-origin:50% 50%"><i>1</i>2</div>
<div class="t" style="font-size:19px;color:#fff;left:942.75px;top:1423.27px;transform:translateX(-50%) scaleX(0.6850);transform-origin:50% 50%"><i>1</i>3</div>
<div class="t" style="font-size:19px;color:#fff;left:993.50px;top:1423.27px;transform:translateX(-50%) scaleX(0.6850);transform-origin:50% 50%">42</div>
<div class="t" style="font-size:19px;color:#fff;left:1048.85px;top:1423.27px;transform:translateX(-50%) scaleX(0.6850);transform-origin:50% 50%">63</div>
<div class="t" style="font-size:19px;color:#fff;left:1109.30px;top:1423.27px;transform:translateX(-50%) scaleX(0.6850);transform-origin:50% 50%">25</div>
<div class="t" style="font-size:19px;color:#fff;left:1169.90px;top:1423.27px;transform:translateX(-50%) scaleX(0.6850);transform-origin:50% 50%">0. 85</div>
<div class="t" style="font-size:19px;color:#fff;left:702.95px;top:1464.12px;transform:translateX(-50%) scaleX(0.6850);transform-origin:50% 50%">45</div>
<div class="t" style="font-size:19px;color:#fff;left:763.25px;top:1464.12px;transform:translateX(-50%) scaleX(0.6850);transform-origin:50% 50%"><i>1</i>40. 70</div>
<div class="t" style="font-size:19px;color:#fff;left:823.70px;top:1464.12px;transform:translateX(-50%) scaleX(0.6850);transform-origin:50% 50%"><i>1</i>36. 55</div>
<div class="t" style="font-size:19px;color:#fff;left:885.60px;top:1464.12px;transform:translateX(-50%) scaleX(0.6850);transform-origin:50% 50%"><i>1</i>4</div>
<div class="t" style="font-size:19px;color:#fff;left:942.75px;top:1464.12px;transform:translateX(-50%) scaleX(0.6850);transform-origin:50% 50%"><i>1</i>5</div>
<div class="t" style="font-size:19px;color:#fff;left:993.50px;top:1464.12px;transform:translateX(-50%) scaleX(0.6850);transform-origin:50% 50%">42</div>
<div class="t" style="font-size:19px;color:#fff;left:1048.85px;top:1464.12px;transform:translateX(-50%) scaleX(0.6850);transform-origin:50% 50%">63</div>
<div class="t" style="font-size:19px;color:#fff;left:1109.30px;top:1464.12px;transform:translateX(-50%) scaleX(0.6850);transform-origin:50% 50%">25</div>
<div class="t" style="font-size:19px;color:#fff;left:1169.90px;top:1464.12px;transform:translateX(-50%) scaleX(0.6850);transform-origin:50% 50%"><i>1</i>. 00</div>
<div class="t" style="font-size:19px;color:#fff;left:702.95px;top:1508.67px;transform:translateX(-50%) scaleX(0.6850);transform-origin:50% 50%">50</div>
<div class="t" style="font-size:19px;color:#fff;left:763.25px;top:1508.67px;transform:translateX(-50%) scaleX(0.6850);transform-origin:50% 50%"><i>1</i>55. 70</div>
<div class="t" style="font-size:19px;color:#fff;left:823.70px;top:1508.67px;transform:translateX(-50%) scaleX(0.6850);transform-origin:50% 50%"><i>1</i>5<i>1</i>. 69</div>
<div class="t" style="font-size:19px;color:#fff;left:885.60px;top:1508.67px;transform:translateX(-50%) scaleX(0.6850);transform-origin:50% 50%"><i>1</i>4</div>
<div class="t" style="font-size:19px;color:#fff;left:942.75px;top:1508.67px;transform:translateX(-50%) scaleX(0.6850);transform-origin:50% 50%"><i>1</i>5</div>
<div class="t" style="font-size:19px;color:#fff;left:993.50px;top:1508.67px;transform:translateX(-50%) scaleX(0.6850);transform-origin:50% 50%">42</div>
<div class="t" style="font-size:19px;color:#fff;left:1048.85px;top:1508.67px;transform:translateX(-50%) scaleX(0.6850);transform-origin:50% 50%">63</div>
<div class="t" style="font-size:19px;color:#fff;left:1109.30px;top:1508.67px;transform:translateX(-50%) scaleX(0.6850);transform-origin:50% 50%">25</div>
<div class="t" style="font-size:19px;color:#fff;left:1169.90px;top:1508.67px;transform:translateX(-50%) scaleX(0.6850);transform-origin:50% 50%"><i>1</i>. 07</div>
<div class="t" style="font-size:19px;color:#fff;left:702.95px;top:1557.82px;transform:translateX(-50%) scaleX(0.6850);transform-origin:50% 50%">57</div>
<div class="t" style="font-size:19px;color:#fff;left:763.25px;top:1557.82px;transform:translateX(-50%) scaleX(0.6850);transform-origin:50% 50%"><i>1</i>76. 90</div>
<div class="t" style="font-size:19px;color:#fff;left:823.70px;top:1557.82px;transform:translateX(-50%) scaleX(0.6850);transform-origin:50% 50%"><i>1</i>72. 9<i>1</i></div>
<div class="t" style="font-size:19px;color:#fff;left:885.60px;top:1557.82px;transform:translateX(-50%) scaleX(0.6850);transform-origin:50% 50%"><i>1</i>4</div>
<div class="t" style="font-size:19px;color:#fff;left:942.75px;top:1557.82px;transform:translateX(-50%) scaleX(0.6850);transform-origin:50% 50%"><i>1</i>5</div>
<div class="t" style="font-size:19px;color:#fff;left:993.50px;top:1557.82px;transform:translateX(-50%) scaleX(0.6850);transform-origin:50% 50%">42</div>
<div class="t" style="font-size:19px;color:#fff;left:1048.85px;top:1557.82px;transform:translateX(-50%) scaleX(0.6850);transform-origin:50% 50%">63</div>
<div class="t" style="font-size:19px;color:#fff;left:1109.30px;top:1557.82px;transform:translateX(-50%) scaleX(0.6850);transform-origin:50% 50%">25</div>
<div class="t" style="font-size:19px;color:#fff;left:702.95px;top:1607.32px;transform:translateX(-50%) scaleX(0.6850);transform-origin:50% 50%">76</div>
<div class="t" style="font-size:19px;color:#fff;left:763.25px;top:1607.32px;transform:translateX(-50%) scaleX(0.6850);transform-origin:50% 50%">234. 90</div>
<div class="t" style="font-size:19px;color:#fff;left:823.70px;top:1607.32px;transform:translateX(-50%) scaleX(0.6850);transform-origin:50% 50%">230. 49</div>
<div class="t" style="font-size:19px;color:#fff;left:885.60px;top:1607.32px;transform:translateX(-50%) scaleX(0.6850);transform-origin:50% 50%"><i>1</i>6</div>
<div class="t" style="font-size:19px;color:#fff;left:942.75px;top:1607.32px;transform:translateX(-50%) scaleX(0.6850);transform-origin:50% 50%"><i>1</i>7</div>
<div class="t" style="font-size:19px;color:#fff;left:993.50px;top:1607.32px;transform:translateX(-50%) scaleX(0.6850);transform-origin:50% 50%">45</div>
<div class="t" style="font-size:19px;color:#fff;left:1048.85px;top:1607.32px;transform:translateX(-50%) scaleX(0.6850);transform-origin:50% 50%">68</div>
<div class="t" style="font-size:19px;color:#fff;left:1109.30px;top:1607.32px;transform:translateX(-50%) scaleX(0.6850);transform-origin:50% 50%">25</div>
<div class="t" style="font-size:19px;color:#fff;left:702.95px;top:1656.52px;transform:translateX(-50%) scaleX(0.6850);transform-origin:50% 50%">95</div>
<div class="t" style="font-size:19px;color:#fff;left:763.25px;top:1656.52px;transform:translateX(-50%) scaleX(0.6850);transform-origin:50% 50%">292. 50</div>
<div class="t" style="font-size:19px;color:#fff;left:823.70px;top:1656.52px;transform:translateX(-50%) scaleX(0.6850);transform-origin:50% 50%">288. 08</div>
<div class="t" style="font-size:19px;color:#fff;left:885.60px;top:1656.52px;transform:translateX(-50%) scaleX(0.6850);transform-origin:50% 50%"><i>1</i>6</div>
<div class="t" style="font-size:19px;color:#fff;left:942.75px;top:1656.52px;transform:translateX(-50%) scaleX(0.6850);transform-origin:50% 50%"><i>1</i>7</div>
<div class="t" style="font-size:19px;color:#fff;left:993.50px;top:1656.52px;transform:translateX(-50%) scaleX(0.6850);transform-origin:50% 50%">45</div>
<div class="t" style="font-size:19px;color:#fff;left:1048.85px;top:1656.52px;transform:translateX(-50%) scaleX(0.6850);transform-origin:50% 50%">68</div>
<div class="t" style="font-size:19px;color:#fff;left:1109.30px;top:1656.52px;transform:translateX(-50%) scaleX(0.6850);transform-origin:50% 50%">25</div>
<div class="t" style="font-size:19px;color:#fff;left:702.95px;top:1706.67px;transform:translateX(-50%) scaleX(0.6850);transform-origin:50% 50%"><i>1</i><i>1</i>4</div>
<div class="t" style="font-size:19px;color:#fff;left:763.25px;top:1706.67px;transform:translateX(-50%) scaleX(0.6850);transform-origin:50% 50%">349. 50</div>
<div class="t" style="font-size:19px;color:#fff;left:823.70px;top:1706.67px;transform:translateX(-50%) scaleX(0.6850);transform-origin:50% 50%">345. 68</div>
<div class="t" style="font-size:18.6px;color:#fff;left:634.70px;top:1245.53px;transform:translateX(-50%) scaleX(0.7058);transform-origin:50% 50%">06B-TB</div>
<div class="t" style="font-size:12.4px;color:#fff;left:1221.80px;top:1186.00px;transform:translate(-50%,-50%) rotate(90deg) scaleX(1.6079);transform-origin:50% 50%">Machined</div>
<div class="t" style="font-size:12.4px;color:#fff;left:1222.40px;top:1669.00px;transform:translate(-50%,-50%) rotate(90deg) scaleX(1.5791);transform-origin:50% 50%">Welded</div>
<div class="t" style="font-size:12.4px;color:#fff;left:1273.20px;top:1182.80px;transform:translate(-50%,-50%) rotate(90deg) scaleX(1.6726);transform-origin:50% 50%">Carbon steel for machine structural use</div>
<div class="t" style="font-size:12.4px;color:#fff;left:1272.80px;top:1669.00px;transform:translate(-50%,-50%) rotate(90deg) scaleX(1.5556);transform-origin:50% 50%">common steel</div>
<div class="t" style="font-size:22.8px;color:#fff;font-weight:700;-webkit-text-stroke:0.7px #fff;left:23.60px;top:1878.90px;transform:scaleX(1.0944);transform-origin:0 50%">@BestConveyorCenter</div>
<div class="t" style="font-size:22.8px;color:#fff;font-weight:700;-webkit-text-stroke:0.7px #fff;left:337.80px;top:1878.90px;transform:scaleX(1.1051);transform-origin:0 50%">sale@nmec.co.th</div>
<div class="t" style="font-size:22.8px;color:#fff;font-weight:700;-webkit-text-stroke:0.7px #fff;left:589.90px;top:1878.90px;transform:scaleX(1.1292);transform-origin:0 50%">www.BestConveyorCenter.com</div>
<div class="t" style="font-size:22.8px;color:#fff;font-weight:700;-webkit-text-stroke:0.7px #fff;left:1015.50px;top:1880.10px;transform:scaleX(1.1488);transform-origin:0 50%">086-3272600 , 02-0017766</div>
</body></html>
